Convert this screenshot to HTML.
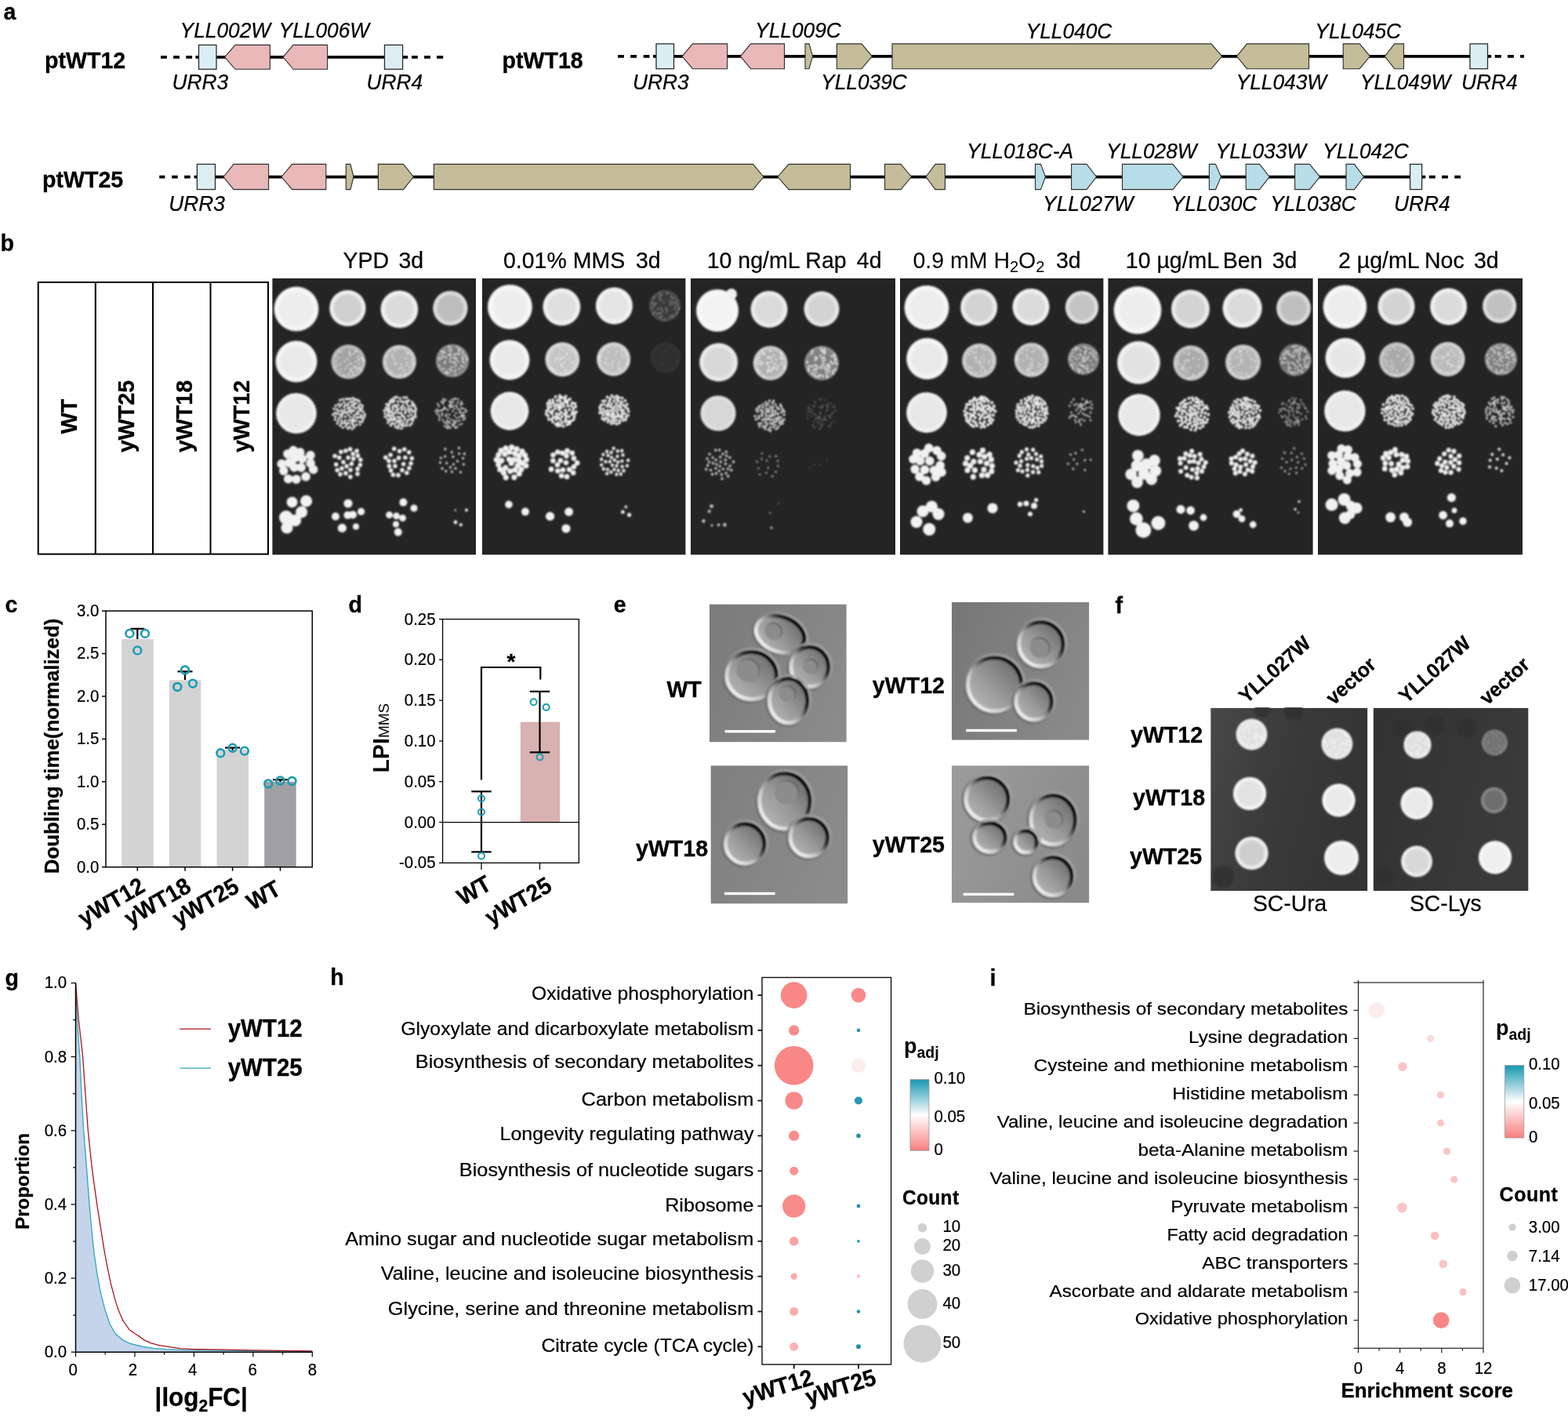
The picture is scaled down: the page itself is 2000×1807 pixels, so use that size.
<!DOCTYPE html>
<html lang="en"><head><meta charset="utf-8"><title>Figure</title>
<style>html,body{margin:0;padding:0;background:#fff}body{width:2000px;height:1807px;overflow:hidden}svg{display:block}text{font-family:"Liberation Sans",sans-serif}</style>
</head><body>
<svg width="2000" height="1807" viewBox="0 0 2000 1807">
<defs>
<filter id="soft" x="-5%" y="-5%" width="110%" height="110%"><feGaussianBlur stdDeviation="1.0"/></filter>
<radialGradient id="lg0"><stop offset="0" stop-color="#ededed"/><stop offset="0.68" stop-color="#ededed"/><stop offset="0.84" stop-color="#f7f7f7"/><stop offset="0.94" stop-color="#f7f7f7"/><stop offset="1" stop-color="#f7f7f7" stop-opacity="0.25"/></radialGradient>
<radialGradient id="lg1"><stop offset="0" stop-color="#cfcfcf"/><stop offset="0.68" stop-color="#cfcfcf"/><stop offset="0.84" stop-color="#efefef"/><stop offset="0.94" stop-color="#efefef"/><stop offset="1" stop-color="#efefef" stop-opacity="0.25"/></radialGradient>
<radialGradient id="lg2"><stop offset="0" stop-color="#dbdbdb"/><stop offset="0.68" stop-color="#dbdbdb"/><stop offset="0.84" stop-color="#f1f1f1"/><stop offset="0.94" stop-color="#f1f1f1"/><stop offset="1" stop-color="#f1f1f1" stop-opacity="0.25"/></radialGradient>
<radialGradient id="lg3"><stop offset="0" stop-color="#bdbdbd"/><stop offset="0.68" stop-color="#bdbdbd"/><stop offset="0.84" stop-color="#dddddd"/><stop offset="0.94" stop-color="#dddddd"/><stop offset="1" stop-color="#dddddd" stop-opacity="0.25"/></radialGradient>
<radialGradient id="lg4"><stop offset="0" stop-color="#e9e9e9"/><stop offset="0.68" stop-color="#e9e9e9"/><stop offset="0.84" stop-color="#f5f5f5"/><stop offset="0.94" stop-color="#f5f5f5"/><stop offset="1" stop-color="#f5f5f5" stop-opacity="0.25"/></radialGradient>
<radialGradient id="lg5"><stop offset="0" stop-color="#a2a2a2"/><stop offset="0.68" stop-color="#a2a2a2"/><stop offset="0.84" stop-color="#bbbbbb"/><stop offset="0.94" stop-color="#bbbbbb"/><stop offset="1" stop-color="#bbbbbb" stop-opacity="0.25"/></radialGradient>
<radialGradient id="lg6"><stop offset="0" stop-color="#b1b1b1"/><stop offset="0.68" stop-color="#b1b1b1"/><stop offset="0.84" stop-color="#cacaca"/><stop offset="0.94" stop-color="#cacaca"/><stop offset="1" stop-color="#cacaca" stop-opacity="0.25"/></radialGradient>
<radialGradient id="lg7"><stop offset="0" stop-color="#7a7a7a"/><stop offset="0.68" stop-color="#7a7a7a"/><stop offset="0.84" stop-color="#8e8e8e"/><stop offset="0.94" stop-color="#8e8e8e"/><stop offset="1" stop-color="#8e8e8e" stop-opacity="0.25"/></radialGradient>
<radialGradient id="lg8"><stop offset="0" stop-color="#dfdfdf"/><stop offset="0.68" stop-color="#dfdfdf"/><stop offset="0.84" stop-color="#f1f1f1"/><stop offset="0.94" stop-color="#f1f1f1"/><stop offset="1" stop-color="#f1f1f1" stop-opacity="0.25"/></radialGradient>
<radialGradient id="lg9"><stop offset="0" stop-color="#e5e5e5"/><stop offset="0.68" stop-color="#e5e5e5"/><stop offset="0.84" stop-color="#f3f3f3"/><stop offset="0.94" stop-color="#f3f3f3"/><stop offset="1" stop-color="#f3f3f3" stop-opacity="0.25"/></radialGradient>
<radialGradient id="lg10"><stop offset="0" stop-color="#3a3a3a"/><stop offset="0.68" stop-color="#3a3a3a"/><stop offset="0.84" stop-color="#505050"/><stop offset="0.94" stop-color="#505050"/><stop offset="1" stop-color="#505050" stop-opacity="0.25"/></radialGradient>
<radialGradient id="lg11"><stop offset="0" stop-color="#c5c5c5"/><stop offset="0.68" stop-color="#c5c5c5"/><stop offset="0.84" stop-color="#d9d9d9"/><stop offset="0.94" stop-color="#d9d9d9"/><stop offset="1" stop-color="#d9d9d9" stop-opacity="0.25"/></radialGradient>
<radialGradient id="lg12"><stop offset="0" stop-color="#bebebe"/><stop offset="0.68" stop-color="#bebebe"/><stop offset="0.84" stop-color="#d4d4d4"/><stop offset="0.94" stop-color="#d4d4d4"/><stop offset="1" stop-color="#d4d4d4" stop-opacity="0.25"/></radialGradient>
<radialGradient id="lg13"><stop offset="0" stop-color="#2e2e2e"/><stop offset="0.68" stop-color="#2e2e2e"/><stop offset="0.84" stop-color="#303030"/><stop offset="0.94" stop-color="#303030"/><stop offset="1" stop-color="#303030" stop-opacity="0.25"/></radialGradient>
<radialGradient id="lg14"><stop offset="0" stop-color="#f3f3f3"/><stop offset="0.68" stop-color="#f3f3f3"/><stop offset="0.84" stop-color="#f8f8f8"/><stop offset="0.94" stop-color="#f8f8f8"/><stop offset="1" stop-color="#f8f8f8" stop-opacity="0.25"/></radialGradient>
<radialGradient id="lg15"><stop offset="0" stop-color="#dbdbdb"/><stop offset="0.68" stop-color="#dbdbdb"/><stop offset="0.84" stop-color="#ededed"/><stop offset="0.94" stop-color="#ededed"/><stop offset="1" stop-color="#ededed" stop-opacity="0.25"/></radialGradient>
<radialGradient id="lg16"><stop offset="0" stop-color="#d3d3d3"/><stop offset="0.68" stop-color="#d3d3d3"/><stop offset="0.84" stop-color="#e7e7e7"/><stop offset="0.94" stop-color="#e7e7e7"/><stop offset="1" stop-color="#e7e7e7" stop-opacity="0.25"/></radialGradient>
<radialGradient id="lg17"><stop offset="0" stop-color="#d8d8d8"/><stop offset="0.68" stop-color="#d8d8d8"/><stop offset="0.84" stop-color="#eaeaea"/><stop offset="0.94" stop-color="#eaeaea"/><stop offset="1" stop-color="#eaeaea" stop-opacity="0.25"/></radialGradient>
<radialGradient id="lg18"><stop offset="0" stop-color="#7f7f7f"/><stop offset="0.68" stop-color="#7f7f7f"/><stop offset="0.84" stop-color="#8e8e8e"/><stop offset="0.94" stop-color="#8e8e8e"/><stop offset="1" stop-color="#8e8e8e" stop-opacity="0.25"/></radialGradient>
<radialGradient id="lg19"><stop offset="0" stop-color="#d3d3d3"/><stop offset="0.68" stop-color="#d3d3d3"/><stop offset="0.84" stop-color="#ededed"/><stop offset="0.94" stop-color="#ededed"/><stop offset="1" stop-color="#ededed" stop-opacity="0.25"/></radialGradient>
<radialGradient id="lg20"><stop offset="0" stop-color="#c4c4c4"/><stop offset="0.68" stop-color="#c4c4c4"/><stop offset="0.84" stop-color="#e0e0e0"/><stop offset="0.94" stop-color="#e0e0e0"/><stop offset="1" stop-color="#e0e0e0" stop-opacity="0.25"/></radialGradient>
<radialGradient id="lg21"><stop offset="0" stop-color="#7a7a7a"/><stop offset="0.68" stop-color="#7a7a7a"/><stop offset="0.84" stop-color="#898989"/><stop offset="0.94" stop-color="#898989"/><stop offset="1" stop-color="#898989" stop-opacity="0.25"/></radialGradient>
<radialGradient id="lg22"><stop offset="0" stop-color="#d3d3d3"/><stop offset="0.68" stop-color="#d3d3d3"/><stop offset="0.84" stop-color="#ebebeb"/><stop offset="0.94" stop-color="#ebebeb"/><stop offset="1" stop-color="#ebebeb" stop-opacity="0.25"/></radialGradient>
<radialGradient id="lg23"><stop offset="0" stop-color="#bfbfbf"/><stop offset="0.68" stop-color="#bfbfbf"/><stop offset="0.84" stop-color="#dbdbdb"/><stop offset="0.94" stop-color="#dbdbdb"/><stop offset="1" stop-color="#dbdbdb" stop-opacity="0.25"/></radialGradient>
<radialGradient id="lg24"><stop offset="0" stop-color="#e2e2e2"/><stop offset="0.68" stop-color="#e2e2e2"/><stop offset="0.84" stop-color="#f1f1f1"/><stop offset="0.94" stop-color="#f1f1f1"/><stop offset="1" stop-color="#f1f1f1" stop-opacity="0.25"/></radialGradient>
<radialGradient id="lg25"><stop offset="0" stop-color="#aaaaaa"/><stop offset="0.68" stop-color="#aaaaaa"/><stop offset="0.84" stop-color="#c5c5c5"/><stop offset="0.94" stop-color="#c5c5c5"/><stop offset="1" stop-color="#c5c5c5" stop-opacity="0.25"/></radialGradient>
<radialGradient id="lg26"><stop offset="0" stop-color="#b4b4b4"/><stop offset="0.68" stop-color="#b4b4b4"/><stop offset="0.84" stop-color="#cccccc"/><stop offset="0.94" stop-color="#cccccc"/><stop offset="1" stop-color="#cccccc" stop-opacity="0.25"/></radialGradient>
<radialGradient id="lg27"><stop offset="0" stop-color="#707070"/><stop offset="0.68" stop-color="#707070"/><stop offset="0.84" stop-color="#7a7a7a"/><stop offset="0.94" stop-color="#7a7a7a"/><stop offset="1" stop-color="#7a7a7a" stop-opacity="0.25"/></radialGradient>
<radialGradient id="lg28"><stop offset="0" stop-color="#c1c1c1"/><stop offset="0.68" stop-color="#c1c1c1"/><stop offset="0.84" stop-color="#e0e0e0"/><stop offset="0.94" stop-color="#e0e0e0"/><stop offset="1" stop-color="#e0e0e0" stop-opacity="0.25"/></radialGradient>
<radialGradient id="lg29"><stop offset="0" stop-color="#e7e7e7"/><stop offset="0.68" stop-color="#e7e7e7"/><stop offset="0.84" stop-color="#f3f3f3"/><stop offset="0.94" stop-color="#f3f3f3"/><stop offset="1" stop-color="#f3f3f3" stop-opacity="0.25"/></radialGradient>
<radialGradient id="lg30"><stop offset="0" stop-color="#bbbbbb"/><stop offset="0.68" stop-color="#bbbbbb"/><stop offset="0.84" stop-color="#d2d2d2"/><stop offset="0.94" stop-color="#d2d2d2"/><stop offset="1" stop-color="#d2d2d2" stop-opacity="0.25"/></radialGradient>
<radialGradient id="lg31"><stop offset="0" stop-color="#828282"/><stop offset="0.68" stop-color="#828282"/><stop offset="0.84" stop-color="#939393"/><stop offset="0.94" stop-color="#939393"/><stop offset="1" stop-color="#939393" stop-opacity="0.25"/></radialGradient>
<filter id="soft2" x="-10%" y="-10%" width="120%" height="120%"><feGaussianBlur stdDeviation="1.3"/></filter>
<linearGradient id="dic" x1="0.15" y1="0.85" x2="0.85" y2="0.15"><stop offset="0" stop-color="#ececec"/><stop offset="0.28" stop-color="#c8c8c8"/><stop offset="0.5" stop-color="#8a8a8a"/><stop offset="0.72" stop-color="#2c2c2c"/><stop offset="1" stop-color="#0c0c0c"/></linearGradient>
<linearGradient id="cfill" x1="0.15" y1="0.85" x2="0.85" y2="0.15"><stop offset="0" stop-color="#b4b4b4"/><stop offset="0.45" stop-color="#989898"/><stop offset="1" stop-color="#6e6e6e"/></linearGradient>
<linearGradient id="dicr20" gradientTransform="rotate(-20 .5 .5)" x1="0.15" y1="0.85" x2="0.85" y2="0.15"><stop offset="0" stop-color="#ececec"/><stop offset="0.28" stop-color="#c8c8c8"/><stop offset="0.5" stop-color="#8a8a8a"/><stop offset="0.72" stop-color="#2c2c2c"/><stop offset="1" stop-color="#0c0c0c"/></linearGradient>
<linearGradient id="dicO" x1="0.15" y1="0.85" x2="0.85" y2="0.15"><stop offset="0" stop-color="#6c6c6c"/><stop offset="0.5" stop-color="#888"/><stop offset="1" stop-color="#a4a4a4"/></linearGradient>
<linearGradient id="dicv" x1="0.15" y1="0.85" x2="0.85" y2="0.15"><stop offset="0" stop-color="#a8a8a8"/><stop offset="0.5" stop-color="#888"/><stop offset="1" stop-color="#606060"/></linearGradient>
<linearGradient id="bg0" x1="0" y1="0.3" x2="1" y2="0.7"><stop offset="0" stop-color="#7c7c7c"/><stop offset="1" stop-color="#8b8b8b"/></linearGradient>
<linearGradient id="bg1" x1="0" y1="0.3" x2="1" y2="0.7"><stop offset="0" stop-color="#787878"/><stop offset="1" stop-color="#8a8a8a"/></linearGradient>
<linearGradient id="bg2" x1="0" y1="0.3" x2="1" y2="0.7"><stop offset="0" stop-color="#808080"/><stop offset="1" stop-color="#8c8c8c"/></linearGradient>
<linearGradient id="bg3" x1="0" y1="0.3" x2="1" y2="0.7"><stop offset="0" stop-color="#9a9a9a"/><stop offset="1" stop-color="#8a8a8a"/></linearGradient>
<clipPath id="clip0"><rect x="904.8" y="770.4" width="175" height="176"/></clipPath>
<clipPath id="clip1"><rect x="1213.9" y="767.8" width="175.4" height="176"/></clipPath>
<clipPath id="clip2"><rect x="906.4" y="976.2" width="175" height="176.3"/></clipPath>
<clipPath id="clip3"><rect x="1213.9" y="976.2" width="175.4" height="175.3"/></clipPath>
<linearGradient id="fbg1" x1="0" y1="0" x2="1" y2="0.3"><stop offset="0" stop-color="#484848"/><stop offset="0.5" stop-color="#3a3a3a"/><stop offset="1" stop-color="#343434"/></linearGradient>
<linearGradient id="fbg2" x1="0" y1="0" x2="1" y2="0.3"><stop offset="0" stop-color="#323232"/><stop offset="1" stop-color="#3a3a3a"/></linearGradient>
<clipPath id="clipf"><rect x="1544.3" y="902.9" width="405" height="233.10000000000002"/></clipPath>
<radialGradient id="lg32"><stop offset="0" stop-color="#e2e2e2"/><stop offset="0.68" stop-color="#e2e2e2"/><stop offset="0.84" stop-color="#eaeaea"/><stop offset="0.94" stop-color="#eaeaea"/><stop offset="1" stop-color="#eaeaea" stop-opacity="0.25"/></radialGradient>
<radialGradient id="lg33"><stop offset="0" stop-color="#e0e0e0"/><stop offset="0.68" stop-color="#e0e0e0"/><stop offset="0.84" stop-color="#e8e8e8"/><stop offset="0.94" stop-color="#e8e8e8"/><stop offset="1" stop-color="#e8e8e8" stop-opacity="0.25"/></radialGradient>
<radialGradient id="lg34"><stop offset="0" stop-color="#e3e3e3"/><stop offset="0.68" stop-color="#e3e3e3"/><stop offset="0.84" stop-color="#f5f5f5"/><stop offset="0.94" stop-color="#f5f5f5"/><stop offset="1" stop-color="#f5f5f5" stop-opacity="0.25"/></radialGradient>
<radialGradient id="lg35"><stop offset="0" stop-color="#cecece"/><stop offset="0.68" stop-color="#cecece"/><stop offset="0.84" stop-color="#efefef"/><stop offset="0.94" stop-color="#efefef"/><stop offset="1" stop-color="#efefef" stop-opacity="0.25"/></radialGradient>
<radialGradient id="lg36"><stop offset="0" stop-color="#ededed"/><stop offset="0.68" stop-color="#ededed"/><stop offset="0.84" stop-color="#f5f5f5"/><stop offset="0.94" stop-color="#f5f5f5"/><stop offset="1" stop-color="#f5f5f5" stop-opacity="0.25"/></radialGradient>
<radialGradient id="lg37"><stop offset="0" stop-color="#e9e9e9"/><stop offset="0.68" stop-color="#e9e9e9"/><stop offset="0.84" stop-color="#f3f3f3"/><stop offset="0.94" stop-color="#f3f3f3"/><stop offset="1" stop-color="#f3f3f3" stop-opacity="0.25"/></radialGradient>
<radialGradient id="lg38"><stop offset="0" stop-color="#6e6e6e"/><stop offset="0.68" stop-color="#6e6e6e"/><stop offset="0.84" stop-color="#878787"/><stop offset="0.94" stop-color="#878787"/><stop offset="1" stop-color="#878787" stop-opacity="0.25"/></radialGradient>
<radialGradient id="lg39"><stop offset="0" stop-color="#d8d8d8"/><stop offset="0.68" stop-color="#d8d8d8"/><stop offset="0.84" stop-color="#ededed"/><stop offset="0.94" stop-color="#ededed"/><stop offset="1" stop-color="#ededed" stop-opacity="0.25"/></radialGradient>
<radialGradient id="lg40"><stop offset="0" stop-color="#efefef"/><stop offset="0.68" stop-color="#efefef"/><stop offset="0.84" stop-color="#f7f7f7"/><stop offset="0.94" stop-color="#f7f7f7"/><stop offset="1" stop-color="#f7f7f7" stop-opacity="0.25"/></radialGradient>
<linearGradient id="cb1161" x1="0" y1="0" x2="0" y2="1"><stop offset="0" stop-color="#1997b3"/><stop offset="0.5" stop-color="#ffffff"/><stop offset="1" stop-color="#f87f7e"/></linearGradient>
<linearGradient id="cb1919" x1="0" y1="0" x2="0" y2="1"><stop offset="0" stop-color="#1997b3"/><stop offset="0.5" stop-color="#ffffff"/><stop offset="1" stop-color="#f87f7e"/></linearGradient>
</defs>
<!-- pa -->
<text font-size="28.6" font-weight="bold" transform="translate(4.50 24.70)" stroke="#000" stroke-width="0.3">a</text>
<text font-size="28.6" font-weight="bold" transform="translate(57.00 87.20) scale(1 1.04)" stroke="#000" stroke-width="0.3">ptWT12</text>
<path d="M205.0 72.8H212.8M221.1 72.8H229.0M237.4 72.8H245.1M249.4 72.8H254.0" stroke="#000" stroke-width="3.8" fill="none"/>
<line x1="253.50" y1="72.80" x2="513.00" y2="72.80" stroke="#000" stroke-width="3.8"/>
<path d="M513.0 72.8H520.2M525.1 72.8H532.8M541.1 72.8H548.9M557.1 72.8H565.2" stroke="#000" stroke-width="3.8" fill="none"/>
<rect x="253.50" y="57.40" width="22.50" height="30.90" fill="#dbeef4" stroke="#2c2c2c" stroke-width="1.3"/>
<polygon points="286.50,72.85 300.00,57.40 344.40,57.40 344.40,88.30 300.00,88.30" fill="#e9b8b8" stroke="#2c2c2c" stroke-width="1.1"/>
<polygon points="361.00,72.85 374.00,57.40 417.60,57.40 417.60,88.30 374.00,88.30" fill="#e9b8b8" stroke="#2c2c2c" stroke-width="1.1"/>
<rect x="490.50" y="57.40" width="23.10" height="30.90" fill="#dbeef4" stroke="#2c2c2c" stroke-width="1.3"/>
<text font-size="26.3" font-style="italic" transform="translate(229.60 48.30) scale(1 1.04)" stroke="#000" stroke-width="0.22">YLL002W</text>
<text font-size="26.3" font-style="italic" transform="translate(355.60 48.30) scale(1 1.04)" stroke="#000" stroke-width="0.22">YLL006W</text>
<text font-size="26.3" font-style="italic" transform="translate(219.60 114.30) scale(1 1.04)" stroke="#000" stroke-width="0.22">URR3</text>
<text font-size="26.3" font-style="italic" transform="translate(467.60 114.30) scale(1 1.04)" stroke="#000" stroke-width="0.22">URR4</text>
<text font-size="28.6" font-weight="bold" transform="translate(640.50 87.20) scale(1 1.04)" stroke="#000" stroke-width="0.3">ptWT18</text>
<path d="M788.1 71.9H795.9M804.2 71.9H812.0M820.7 71.9H828.5M833.0 71.9H837.0" stroke="#000" stroke-width="3.8" fill="none"/>
<line x1="837.00" y1="71.90" x2="1897.00" y2="71.90" stroke="#000" stroke-width="3.8"/>
<path d="M1897.0 71.9H1902.2M1906.7 71.9H1914.8M1922.9 71.9H1930.9M1939.1 71.9H1943.9" stroke="#000" stroke-width="3.8" fill="none"/>
<rect x="837.00" y="55.90" width="22.50" height="31.80" fill="#dbeef4" stroke="#2c2c2c" stroke-width="1.3"/>
<polygon points="870.00,71.80 883.50,55.90 927.60,55.90 927.60,87.70 883.50,87.70" fill="#e9b8b8" stroke="#2c2c2c" stroke-width="1.1"/>
<polygon points="944.40,71.80 957.60,55.90 1000.50,55.90 1000.50,87.70 957.60,87.70" fill="#e9b8b8" stroke="#2c2c2c" stroke-width="1.1"/>
<polygon points="1027.00,55.90 1032.00,55.90 1036.50,71.80 1032.00,87.70 1027.00,87.70" fill="#c5bd99" stroke="#2c2c2c" stroke-width="1.1"/>
<polygon points="1067.40,55.90 1099.00,55.90 1112.40,71.80 1099.00,87.70 1067.40,87.70" fill="#c5bd99" stroke="#2c2c2c" stroke-width="1.1"/>
<polygon points="1138.00,55.90 1545.00,55.90 1558.75,71.80 1545.00,87.70 1138.00,87.70" fill="#c5bd99" stroke="#2c2c2c" stroke-width="1.1"/>
<polygon points="1577.50,71.80 1590.50,55.90 1669.50,55.90 1669.50,87.70 1590.50,87.70" fill="#c5bd99" stroke="#2c2c2c" stroke-width="1.1"/>
<polygon points="1713.25,55.90 1734.25,55.90 1747.50,71.80 1734.25,87.70 1713.25,87.70" fill="#c5bd99" stroke="#2c2c2c" stroke-width="1.1"/>
<polygon points="1766.25,71.80 1778.75,55.90 1790.50,55.90 1790.50,87.70 1778.75,87.70" fill="#c5bd99" stroke="#2c2c2c" stroke-width="1.1"/>
<rect x="1875.00" y="55.90" width="22.50" height="31.80" fill="#dbeef4" stroke="#2c2c2c" stroke-width="1.3"/>
<text font-size="26.3" font-style="italic" transform="translate(807.10 114.30) scale(1 1.04)" stroke="#000" stroke-width="0.22">URR3</text>
<text font-size="26.3" font-style="italic" transform="translate(963.10 48.30) scale(1 1.04)" stroke="#000" stroke-width="0.22">YLL009C</text>
<text font-size="26.3" font-style="italic" transform="translate(1047.10 114.30) scale(1 1.04)" stroke="#000" stroke-width="0.22">YLL039C</text>
<text font-size="26.3" font-style="italic" transform="translate(1308.60 48.80) scale(1 1.04)" stroke="#000" stroke-width="0.22">YLL040C</text>
<text font-size="26.3" font-style="italic" transform="translate(1677.35 48.80) scale(1 1.04)" stroke="#000" stroke-width="0.22">YLL045C</text>
<text font-size="26.3" font-style="italic" transform="translate(1576.60 114.30) scale(1 1.04)" stroke="#000" stroke-width="0.22">YLL043W</text>
<text font-size="26.3" font-style="italic" transform="translate(1734.85 114.30) scale(1 1.04)" stroke="#000" stroke-width="0.22">YLL049W</text>
<text font-size="26.3" font-style="italic" transform="translate(1864.10 114.30) scale(1 1.04)" stroke="#000" stroke-width="0.22">URR4</text>
<text font-size="28.6" font-weight="bold" transform="translate(54.00 238.80) scale(1 1.04)" stroke="#000" stroke-width="0.3">ptWT25</text>
<path d="M203.2 225.6H210.4M219.1 225.6H226.7M235.1 225.6H242.8M247.6 225.6H252.0" stroke="#000" stroke-width="3.8" fill="none"/>
<line x1="251.40" y1="225.60" x2="1813.00" y2="225.60" stroke="#000" stroke-width="3.8"/>
<path d="M1813.0 225.6H1818.3M1822.8 225.6H1830.7M1839.0 225.6H1846.9M1855.2 225.6H1863.0" stroke="#000" stroke-width="3.8" fill="none"/>
<rect x="251.40" y="209.40" width="23.10" height="32.20" fill="#dbeef4" stroke="#2c2c2c" stroke-width="1.3"/>
<polygon points="285.00,225.50 298.00,209.40 342.60,209.40 342.60,241.60 298.00,241.60" fill="#e9b8b8" stroke="#2c2c2c" stroke-width="1.1"/>
<polygon points="359.00,225.50 372.60,209.40 415.80,209.40 415.80,241.60 372.60,241.60" fill="#e9b8b8" stroke="#2c2c2c" stroke-width="1.1"/>
<polygon points="441.30,209.40 447.00,209.40 451.00,225.50 447.00,241.60 441.30,241.60" fill="#c5bd99" stroke="#2c2c2c" stroke-width="1.1"/>
<polygon points="482.40,209.40 514.50,209.40 527.40,225.50 514.50,241.60 482.40,241.60" fill="#c5bd99" stroke="#2c2c2c" stroke-width="1.1"/>
<polygon points="553.40,209.40 960.50,209.40 974.00,225.50 960.50,241.60 553.40,241.60" fill="#c5bd99" stroke="#2c2c2c" stroke-width="1.1"/>
<polygon points="992.00,225.50 1006.00,209.40 1084.50,209.40 1084.50,241.60 1006.00,241.60" fill="#c5bd99" stroke="#2c2c2c" stroke-width="1.1"/>
<polygon points="1128.60,209.40 1149.00,209.40 1162.50,225.50 1149.00,241.60 1128.60,241.60" fill="#c5bd99" stroke="#2c2c2c" stroke-width="1.1"/>
<polygon points="1181.00,225.50 1193.00,209.40 1205.40,209.40 1205.40,241.60 1193.00,241.60" fill="#c5bd99" stroke="#2c2c2c" stroke-width="1.1"/>
<polygon points="1320.50,209.40 1327.50,209.40 1333.50,225.50 1327.50,241.60 1320.50,241.60" fill="#b7dde8" stroke="#2c2c2c" stroke-width="1.1"/>
<polygon points="1366.60,209.40 1386.00,209.40 1398.50,225.50 1386.00,241.60 1366.60,241.60" fill="#b7dde8" stroke="#2c2c2c" stroke-width="1.1"/>
<polygon points="1431.50,209.40 1496.00,209.40 1509.00,225.50 1496.00,241.60 1431.50,241.60" fill="#b7dde8" stroke="#2c2c2c" stroke-width="1.1"/>
<polygon points="1542.40,209.40 1550.50,209.40 1557.40,225.50 1550.50,241.60 1542.40,241.60" fill="#b7dde8" stroke="#2c2c2c" stroke-width="1.1"/>
<polygon points="1589.20,209.40 1606.60,209.40 1619.20,225.50 1606.60,241.60 1589.20,241.60" fill="#b7dde8" stroke="#2c2c2c" stroke-width="1.1"/>
<polygon points="1651.60,209.40 1670.50,209.40 1683.40,225.50 1670.50,241.60 1651.60,241.60" fill="#b7dde8" stroke="#2c2c2c" stroke-width="1.1"/>
<polygon points="1717.00,209.40 1727.50,209.40 1739.50,225.50 1727.50,241.60 1717.00,241.60" fill="#b7dde8" stroke="#2c2c2c" stroke-width="1.1"/>
<rect x="1798.60" y="209.40" width="15.00" height="32.20" fill="#dbeef4" stroke="#2c2c2c" stroke-width="1.3"/>
<text font-size="26.3" font-style="italic" transform="translate(215.20 268.90) scale(1 1.04)" stroke="#000" stroke-width="0.22">URR3</text>
<text font-size="26.3" font-style="italic" transform="translate(1233.10 202.30) scale(1 1.04)" stroke="#000" stroke-width="0.22">YLL018C-A</text>
<text font-size="26.3" font-style="italic" transform="translate(1411.10 202.30) scale(1 1.04)" stroke="#000" stroke-width="0.22">YLL028W</text>
<text font-size="26.3" font-style="italic" transform="translate(1550.60 202.30) scale(1 1.04)" stroke="#000" stroke-width="0.22">YLL033W</text>
<text font-size="26.3" font-style="italic" transform="translate(1687.10 202.30) scale(1 1.04)" stroke="#000" stroke-width="0.22">YLL042C</text>
<text font-size="26.3" font-style="italic" transform="translate(1330.10 268.90) scale(1 1.04)" stroke="#000" stroke-width="0.22">YLL027W</text>
<text font-size="26.3" font-style="italic" transform="translate(1493.60 268.90) scale(1 1.04)" stroke="#000" stroke-width="0.22">YLL030C</text>
<text font-size="26.3" font-style="italic" transform="translate(1620.20 268.90) scale(1 1.04)" stroke="#000" stroke-width="0.22">YLL038C</text>
<text font-size="26.3" font-style="italic" transform="translate(1778.00 268.90) scale(1 1.04)" stroke="#000" stroke-width="0.22">URR4</text>
<!-- pb -->
<text font-size="28.6" font-weight="bold" transform="translate(0.50 319.50)" stroke="#000" stroke-width="0.3">b</text>
<rect x="48.70" y="360.00" width="293.30" height="346.60" fill="none" stroke="#000" stroke-width="2"/>
<line x1="121.80" y1="360.00" x2="121.80" y2="706.60" stroke="#000" stroke-width="2"/>
<line x1="195.00" y1="360.00" x2="195.00" y2="706.60" stroke="#000" stroke-width="2"/>
<line x1="268.50" y1="360.00" x2="268.50" y2="706.60" stroke="#000" stroke-width="2"/>
<text font-size="28.6" font-weight="bold" text-anchor="middle" transform="translate(97.90 531.00) rotate(-90) scale(1 1.04)" stroke="#000" stroke-width="0.3">WT</text>
<text font-size="28.6" font-weight="bold" text-anchor="middle" transform="translate(171.40 531.00) rotate(-90) scale(1 1.04)" stroke="#000" stroke-width="0.3">yWT25</text>
<text font-size="28.6" font-weight="bold" text-anchor="middle" transform="translate(244.60 531.00) rotate(-90) scale(1 1.04)" stroke="#000" stroke-width="0.3">yWT18</text>
<text font-size="28.6" font-weight="bold" text-anchor="middle" transform="translate(317.90 531.00) rotate(-90) scale(1 1.04)" stroke="#000" stroke-width="0.3">yWT12</text>
<text font-size="28.5" transform="translate(437.50 341.60) scale(1 1.04)" stroke="#000" stroke-width="0.22">YPD</text>
<text font-size="28.5" transform="translate(508.50 341.60) scale(1 1.04)" stroke="#000" stroke-width="0.22">3d</text>
<text font-size="28.5" transform="translate(642.00 341.60) scale(1 1.04)" stroke="#000" stroke-width="0.22">0.01% MMS</text>
<text font-size="28.5" transform="translate(811.00 341.60) scale(1 1.04)" stroke="#000" stroke-width="0.22">3d</text>
<text font-size="28.5" transform="translate(901.70 341.60) scale(1 1.04)" stroke="#000" stroke-width="0.22">10 ng/mL Rap</text>
<text font-size="28.5" transform="translate(1092.80 341.60) scale(1 1.04)" stroke="#000" stroke-width="0.22">4d</text>
<text transform="translate(1164.5 341.6) scale(1 1.04)" font-size="28.5">0.9 mM H<tspan font-size="20" dy="5.5">2</tspan><tspan dy="-5.5">O</tspan><tspan font-size="20" dy="5.5">2</tspan></text>
<text font-size="28.5" transform="translate(1347.00 341.60) scale(1 1.04)" stroke="#000" stroke-width="0.22">3d</text>
<text font-size="28.5" transform="translate(1435.80 341.60) scale(1 1.04)" stroke="#000" stroke-width="0.22">10 µg/mL</text>
<text font-size="28.5" transform="translate(1559.70 341.60) scale(1 1.04)" stroke="#000" stroke-width="0.22">Ben</text>
<text font-size="28.5" transform="translate(1622.70 341.60) scale(1 1.04)" stroke="#000" stroke-width="0.22">3d</text>
<text font-size="28.5" transform="translate(1707.00 341.60) scale(1 1.04)" stroke="#000" stroke-width="0.22">2 µg/mL</text>
<text font-size="28.5" transform="translate(1817.00 341.60) scale(1 1.04)" stroke="#000" stroke-width="0.22">Noc</text>
<text font-size="28.5" transform="translate(1880.00 341.60) scale(1 1.04)" stroke="#000" stroke-width="0.22">3d</text>
<g>
<rect x="347.40" y="355.00" width="259.60" height="352.40" fill="#242424"/>
<g filter="url(#soft)">
<circle cx="378.00" cy="394.00" r="29.00" fill="url(#lg0)"/>
<circle cx="443.40" cy="393.00" r="23.60" fill="url(#lg1)"/>
<circle cx="509.40" cy="394.40" r="24.40" fill="url(#lg2)"/>
<circle cx="574.40" cy="393.00" r="22.60" fill="url(#lg3)"/>
<circle cx="378.00" cy="461.00" r="27.00" fill="url(#lg4)"/>
<circle cx="444.40" cy="461.40" r="22.40" fill="url(#lg5)"/>
<path d="M430.0 465.8h0M456.6 455.1h0M429.0 460.6h0M450.2 474.6h0M432.1 448.3h0M453.6 467.6h0M459.7 471.2h0M443.0 457.5h0M464.1 459.2h0M435.4 448.4h0M445.8 463.5h0M439.6 460.5h0M448.0 470.6h0M457.9 464.0h0M427.2 468.2h0M434.1 464.2h0M464.5 461.1h0M453.5 447.1h0M440.5 470.3h0M443.1 466.6h0M445.7 448.7h0M451.5 451.1h0M462.3 456.6h0M453.6 461.4h0M457.0 459.8h0M458.7 468.5h0M446.3 451.1h0M451.8 468.2h0M448.4 464.3h0M446.9 453.3h0M431.8 456.5h0M450.7 477.5h0M455.4 473.3h0M454.1 470.1h0M446.8 471.6h0M462.2 458.1h0M438.1 479.3h0M447.5 473.7h0M454.2 448.6h0M460.6 473.2h0M457.4 469.7h0M445.1 477.0h0M435.0 471.2h0M458.0 457.8h0M427.7 452.9h0" stroke="#ededed" stroke-width="2.0" stroke-linecap="round" fill="none"/>
<circle cx="509.40" cy="461.40" r="22.00" fill="url(#lg6)"/>
<path d="M512.6 468.5h0M524.4 451.7h0M509.4 470.0h0M508.1 442.2h0M515.8 479.6h0M520.8 451.0h0M503.8 464.4h0M528.3 466.1h0M510.6 478.0h0M508.6 479.4h0M500.6 455.3h0M517.0 476.4h0M518.0 465.4h0M492.4 454.7h0M517.2 457.0h0M519.6 462.5h0M504.8 463.0h0M514.8 472.2h0M502.9 458.3h0M497.3 475.6h0M525.3 459.4h0M503.9 447.3h0M511.8 464.3h0M528.2 463.5h0M503.5 442.9h0M525.1 463.5h0M492.6 463.3h0M501.1 479.4h0M522.4 468.1h0M508.1 444.8h0M514.5 443.2h0M499.6 474.5h0M494.1 470.2h0M519.2 450.1h0M500.7 452.7h0" stroke="#ededed" stroke-width="2.0" stroke-linecap="round" fill="none"/>
<circle cx="577.00" cy="460.00" r="21.60" fill="url(#lg7)"/>
<path d="M563.8 452.5h0M590.6 467.5h0M595.2 459.2h0M575.3 448.0h0M575.6 445.2h0M560.4 466.5h0M591.8 462.8h0M567.7 461.1h0M572.6 447.0h0M563.0 447.7h0M576.9 462.1h0M572.0 475.2h0M579.4 467.7h0M590.1 451.2h0M569.6 474.0h0M581.1 472.1h0M583.4 442.6h0M585.8 451.8h0M567.5 454.5h0M586.0 470.3h0M586.3 444.7h0M572.4 441.6h0M575.7 467.9h0M567.3 463.1h0M567.4 450.3h0M569.9 476.3h0M590.0 458.5h0M580.1 461.6h0M579.8 457.2h0M584.1 460.9h0M574.1 460.9h0M581.5 451.7h0M579.7 463.3h0M566.2 448.5h0M573.5 452.0h0M590.3 460.9h0M575.2 452.0h0M575.4 471.3h0M564.3 448.9h0M563.4 470.7h0M581.8 456.8h0M592.1 453.2h0M566.5 470.2h0M589.6 448.1h0M589.4 455.5h0M571.9 452.8h0M573.9 442.7h0M581.2 478.0h0M596.1 457.7h0M560.2 456.0h0M584.1 451.0h0M588.2 466.4h0M578.8 455.4h0M579.5 452.3h0M568.2 474.9h0M581.8 465.8h0M560.6 458.3h0M585.6 446.4h0M582.4 458.2h0M579.5 473.9h0M585.1 447.9h0M572.5 471.1h0M590.8 457.2h0M569.2 456.1h0M563.6 456.9h0M574.4 458.0h0M564.4 454.8h0M575.2 455.3h0M595.0 455.0h0M575.4 473.3h0" stroke="#ededed" stroke-width="2.0" stroke-linecap="round" fill="none"/>
<circle cx="378.00" cy="527.00" r="24.18" fill="#e8e8e8"/>
<path d="M401.3 529.3h0M400.6 533.1h0M399.3 536.8h0M397.4 540.1h0M394.9 543.1h0M392.1 545.7h0M388.8 547.8h0M385.2 549.3h0M381.5 550.1h0M377.6 550.4h0M373.7 550.0h0M370.0 549.0h0M366.5 547.4h0M363.3 545.2h0M360.5 542.5h0M358.2 539.5h0M356.4 536.0h0M355.2 532.4h0M354.6 528.5h0M354.7 524.7h0M355.4 520.9h0M356.7 517.2h0M358.6 513.9h0M361.1 510.9h0M363.9 508.3h0M367.2 506.2h0M370.8 504.7h0M374.5 503.9h0M378.4 503.6h0M382.3 504.0h0M386.0 505.0h0M389.5 506.6h0M392.7 508.8h0M395.5 511.5h0M397.8 514.5h0M399.6 518.0h0M400.8 521.6h0M401.4 525.5h0" stroke="#f0f0f0" stroke-width="5.2" stroke-linecap="round" fill="none"/>
<path d="M454.3 536.6h0M452.7 509.4h0M433.7 528.7h0M450.7 541.9h0M451.5 523.7h0M445.6 524.0h0M448.3 536.1h0M440.6 516.4h0M435.2 539.6h0M458.7 537.6h0M445.0 536.0h0M431.8 524.5h0M435.7 536.2h0M437.0 525.5h0M435.5 515.7h0M454.4 514.2h0M451.1 519.3h0M443.9 508.8h0M454.3 520.5h0M437.3 544.9h0M449.0 546.9h0M446.2 544.3h0M451.5 515.5h0M446.8 520.0h0M431.2 536.6h0M454.0 528.0h0M437.0 509.3h0M427.3 526.4h0M447.0 532.0h0M455.8 510.0h0M463.3 534.5h0M427.7 531.2h0M438.6 539.3h0M443.1 525.6h0M444.1 514.1h0M459.2 515.7h0M433.3 518.6h0M463.1 525.0h0M444.0 546.4h0M457.1 527.8h0M448.0 526.6h0M431.9 515.4h0M444.5 539.9h0M440.5 531.5h0M460.0 523.9h0M441.4 543.8h0M444.3 529.3h0M454.8 541.7h0M432.3 533.0h0M439.5 522.8h0M447.6 512.4h0M444.0 517.1h0M438.9 513.0h0M429.7 522.0h0M451.3 530.2h0M450.8 512.1h0M435.8 531.7h0M433.5 510.4h0M454.7 532.5h0M462.2 517.4h0M448.7 516.4h0M439.0 518.9h0M430.1 527.6h0M448.7 539.7h0M457.7 532.2h0M428.3 517.2h0M426.0 521.2h0M440.5 536.3h0M443.7 520.8h0M465.2 528.3h0M446.9 508.7h0M457.3 518.4h0M441.0 508.9h0M459.2 541.1h0M435.3 523.1h0M424.8 528.8h0M427.4 535.0h0M461.0 532.4h0M436.7 528.4h0M451.8 544.8h0M462.0 537.8h0M430.3 540.0h0M464.8 531.3h0M440.3 526.4h0M460.9 529.5h0M461.7 520.7h0M456.5 524.7h0M434.1 542.7h0M458.3 511.8h0M451.2 537.3h0M448.5 523.4h0M450.3 507.7h0M450.8 534.0h0M441.6 540.3h0M458.5 521.1h0" stroke="#f0f0f0" stroke-width="3.4" stroke-linecap="round" fill="none"/>
<path d="M524.6 529.0h0M507.1 531.7h0M525.6 512.9h0M520.4 535.7h0M508.1 542.7h0M498.6 533.6h0M529.1 518.7h0M512.0 536.1h0M494.6 530.1h0M501.0 518.5h0M522.1 525.4h0M516.8 526.8h0M515.0 543.0h0M512.9 522.5h0M515.0 507.0h0M510.0 532.6h0M530.5 521.8h0M507.7 512.1h0M510.2 508.0h0M499.9 525.4h0M494.0 523.4h0M503.2 540.7h0M522.9 542.2h0M521.4 510.8h0M505.5 523.7h0M526.9 532.6h0M491.2 527.5h0M503.0 511.0h0M515.1 512.8h0M514.5 539.3h0M511.6 526.8h0M502.4 532.1h0M525.1 517.2h0M529.6 528.5h0M496.9 514.9h0M508.1 521.9h0M518.5 507.1h0M508.2 526.6h0M518.5 511.8h0M526.4 524.5h0M521.0 518.2h0M498.4 542.5h0M506.2 538.2h0M494.3 534.6h0M504.4 544.5h0M504.2 534.9h0M519.1 539.0h0M523.9 534.4h0M517.6 523.7h0M513.0 529.9h0M507.7 516.5h0M520.8 530.6h0M496.4 521.0h0M506.2 506.4h0M525.1 539.7h0M494.9 539.1h0M515.5 531.7h0M513.9 517.0h0M511.9 511.9h0M524.6 521.7h0M519.0 514.9h0M516.4 535.1h0M500.7 513.0h0M516.2 520.2h0M503.7 516.8h0M501.3 521.7h0M518.6 542.5h0M493.1 515.6h0M501.2 535.7h0M490.2 523.8h0M526.8 536.1h0M492.3 520.4h0M512.2 546.3h0M503.8 526.9h0M511.8 519.5h0M499.9 509.4h0M497.8 530.3h0M500.0 539.8h0M512.1 542.1h0M491.2 531.5h0M521.1 521.9h0M497.1 536.3h0M503.1 507.1h0M527.9 515.7h0M510.1 539.2h0M500.7 528.9h0M495.7 527.1h0M497.5 511.8h0M529.8 524.9h0M507.9 545.9h0M505.6 519.3h0M530.0 531.8h0M497.0 524.2h0M508.5 536.2h0M495.5 517.9h0" stroke="#f0f0f0" stroke-width="3.6" stroke-linecap="round" fill="none"/>
<path d="M566.4 538.2h0M568.7 530.8h0M574.4 545.7h0M565.3 514.7h0M581.3 508.5h0M575.5 513.2h0M563.8 523.1h0M592.9 533.7h0M585.8 532.0h0M581.8 516.9h0M577.5 524.4h0M583.0 537.0h0M563.1 512.4h0M589.6 514.9h0M583.0 544.6h0M588.3 530.0h0M573.2 528.6h0M580.9 545.4h0M586.7 523.8h0M592.4 526.0h0M590.4 529.2h0M578.0 536.3h0M573.1 516.9h0M570.2 536.1h0M579.8 530.1h0M584.5 522.0h0M578.4 517.8h0M559.9 529.2h0M575.3 515.9h0M564.2 527.2h0M565.7 521.8h0M581.8 526.7h0M578.3 512.8h0M558.6 524.7h0M574.7 534.8h0M560.3 535.6h0M573.4 512.3h0M567.0 519.6h0M590.4 520.8h0M559.9 517.9h0M557.7 522.4h0M572.5 543.8h0M568.9 539.3h0M580.7 539.8h0M565.8 511.9h0M568.3 510.1h0M568.6 521.2h0M589.4 526.5h0M576.0 510.0h0M569.3 544.5h0M565.5 508.9h0M584.0 513.4h0M567.1 543.0h0M589.0 540.5h0M571.3 523.0h0M579.5 521.2h0M588.2 512.6h0M579.0 508.9h0M569.3 528.2h0M589.8 531.8h0M590.9 535.1h0M571.5 532.5h0M586.2 526.3h0M587.4 516.4h0M578.5 540.1h0M594.9 524.3h0M576.9 542.1h0M572.0 537.8h0M571.0 545.9h0M564.7 535.2h0M593.4 522.1h0M592.4 530.5h0M557.3 527.6h0M580.1 537.3h0M574.0 539.1h0M561.4 523.9h0M555.6 524.2h0M558.3 515.3h0M586.0 541.5h0M563.9 529.8h0M582.4 533.0h0M573.8 519.6h0M579.2 543.3h0M588.2 520.5h0M560.7 532.2h0M582.9 519.5h0M584.3 509.3h0M586.1 536.2h0M570.8 541.1h0M576.1 518.9h0" stroke="#d7d7d7" stroke-width="2.6" stroke-linecap="round" fill="none"/>
<path d="M377.9 611.2h0M366.9 578.9h0M375.2 595.9h0M384.2 596.1h0M399.7 598.7h0M382.7 576.7h0M361.8 600.3h0M396.1 590.7h0M367.7 610.7h0M390.1 607.8h0M385.5 585.0h0M368.6 590.2h0M374.2 574.4h0M359.2 591.5h0M396.0 580.6h0M375.3 584.4h0" stroke="#f0f0f0" stroke-width="11.6" stroke-linecap="round" fill="none"/>
<path d="M459.4 592.7h0M456.1 597.9h0M430.2 599.5h0M441.0 574.8h0M450.2 578.7h0M442.2 594.6h0M459.8 586.2h0M447.1 599.2h0M441.0 603.4h0M427.1 581.5h0M448.4 591.4h0M428.7 592.3h0M456.4 581.1h0M446.9 608.1h0M432.8 583.6h0M444.1 583.6h0M438.0 589.3h0M450.7 584.9h0M456.0 604.3h0M436.0 597.2h0M434.0 604.8h0M434.9 576.2h0M455.1 575.0h0M446.7 572.7h0" stroke="#f0f0f0" stroke-width="5.6" stroke-linecap="round" fill="none"/>
<path d="M525.3 584.5h0M498.1 580.1h0M498.6 599.9h0M502.7 572.2h0M496.0 587.8h0M521.9 597.0h0M508.6 583.9h0M516.9 583.5h0M514.7 591.7h0M518.9 603.0h0M524.1 591.0h0M496.4 594.2h0M504.0 594.2h0M521.8 576.7h0M508.0 605.9h0M515.8 573.0h0M513.0 599.6h0M509.6 575.2h0M503.0 587.7h0M491.9 583.4h0M501.4 605.5h0" stroke="#f0f0f0" stroke-width="5.6" stroke-linecap="round" fill="none"/>
<path d="M569.7 590.5h0M581.1 597.3h0M568.8 600.8h0M564.0 597.4h0M567.8 582.1h0M561.5 589.8h0M592.3 578.7h0M591.3 592.0h0M567.9 572.7h0M577.9 582.4h0M578.4 592.0h0M576.3 576.6h0M590.7 584.3h0M587.5 602.0h0M585.7 578.5h0M583.5 588.1h0M574.5 595.9h0M562.4 584.0h0M585.4 571.3h0M576.5 601.6h0" stroke="#dcdcdc" stroke-width="3.2" stroke-linecap="round" fill="none"/>
<circle cx="372.60" cy="640.40" r="7.00" fill="#f2f2f2"/>
<circle cx="390.60" cy="639.00" r="7.60" fill="#f2f2f2"/>
<circle cx="384.60" cy="653.00" r="7.60" fill="#f2f2f2"/>
<circle cx="365.00" cy="660.00" r="9.00" fill="#f2f2f2"/>
<circle cx="376.60" cy="663.60" r="7.60" fill="#f2f2f2"/>
<circle cx="366.00" cy="673.00" r="7.60" fill="#f2f2f2"/>
<circle cx="444.00" cy="642.00" r="5.60" fill="#f2f2f2"/>
<circle cx="460.60" cy="652.40" r="4.60" fill="#f2f2f2"/>
<circle cx="428.00" cy="658.60" r="5.00" fill="#f2f2f2"/>
<circle cx="443.40" cy="657.00" r="5.00" fill="#f2f2f2"/>
<circle cx="450.00" cy="656.40" r="5.00" fill="#f2f2f2"/>
<circle cx="436.40" cy="673.40" r="5.60" fill="#f2f2f2"/>
<circle cx="454.00" cy="671.40" r="4.00" fill="#f2f2f2"/>
<circle cx="514.40" cy="640.60" r="5.00" fill="#f2f2f2"/>
<circle cx="528.00" cy="648.00" r="4.60" fill="#f2f2f2"/>
<circle cx="496.60" cy="656.60" r="4.40" fill="#f2f2f2"/>
<circle cx="505.60" cy="658.00" r="4.40" fill="#f2f2f2"/>
<circle cx="513.60" cy="660.60" r="4.40" fill="#f2f2f2"/>
<circle cx="505.00" cy="668.40" r="4.00" fill="#f2f2f2"/>
<circle cx="507.80" cy="678.60" r="5.00" fill="#f2f2f2"/>
<circle cx="580.60" cy="650.60" r="1.20" fill="#f2f2f2"/>
<circle cx="595.00" cy="650.60" r="2.00" fill="#f2f2f2"/>
<circle cx="581.00" cy="666.00" r="2.40" fill="#f2f2f2"/>
<circle cx="587.80" cy="669.20" r="2.00" fill="#f2f2f2"/>
</g></g>
<g>
<rect x="615.00" y="355.00" width="259.40" height="352.40" fill="#242424"/>
<g filter="url(#soft)">
<circle cx="650.40" cy="391.40" r="29.00" fill="url(#lg0)"/>
<circle cx="716.40" cy="391.40" r="24.40" fill="url(#lg8)"/>
<circle cx="783.40" cy="390.00" r="24.00" fill="url(#lg9)"/>
<circle cx="848.00" cy="390.00" r="20.40" fill="url(#lg10)"/>
<path d="M854.6 388.2h0M866.1 392.7h0M850.6 395.8h0M841.7 381.2h0M854.8 384.3h0M858.0 387.4h0M833.7 379.5h0M841.0 373.8h0M846.9 386.1h0M858.4 380.4h0M845.0 397.4h0M856.2 378.7h0M862.9 383.9h0M861.4 386.7h0M843.4 376.4h0M847.1 407.9h0M841.8 405.0h0M858.5 403.0h0M844.1 383.1h0M860.8 394.1h0M834.8 389.5h0M835.4 398.0h0M856.8 384.9h0M838.2 400.0h0M843.8 403.5h0M836.4 386.8h0M841.8 378.2h0M863.6 399.6h0M840.6 399.5h0M833.5 400.2h0M843.4 393.3h0M842.8 399.7h0M849.3 393.3h0M832.0 386.4h0M859.0 384.1h0M834.1 387.9h0M863.8 389.1h0M832.6 392.6h0M851.5 373.8h0M860.9 391.5h0M855.2 403.4h0M839.3 393.8h0M865.4 394.7h0M844.2 395.1h0M849.9 399.1h0" stroke="#c8c8c8" stroke-width="1.4" stroke-linecap="round" fill="none"/>
<circle cx="650.00" cy="459.00" r="26.00" fill="url(#lg4)"/>
<circle cx="717.40" cy="458.40" r="22.40" fill="url(#lg11)"/>
<path d="M723.1 452.0h0M716.4 464.6h0M708.4 460.1h0M707.8 472.7h0M733.8 450.0h0M729.4 461.4h0M719.5 455.4h0M721.5 471.9h0M704.5 470.2h0M714.7 444.9h0M717.5 468.1h0M713.4 451.5h0M729.8 448.0h0M730.7 463.4h0M714.1 455.9h0M713.9 458.7h0M717.5 457.1h0M703.9 443.6h0M722.9 450.4h0M710.0 456.8h0M725.6 474.5h0M705.4 472.6h0M708.7 457.7h0M716.0 466.3h0M725.0 446.2h0M711.4 441.2h0M726.1 457.0h0M701.8 468.9h0M718.3 445.9h0M719.8 462.3h0" stroke="#ededed" stroke-width="2.0" stroke-linecap="round" fill="none"/>
<circle cx="782.60" cy="458.00" r="22.00" fill="url(#lg12)"/>
<path d="M775.6 464.6h0M763.2 455.8h0M791.1 470.1h0M792.7 446.5h0M765.5 455.1h0M801.7 460.6h0M775.7 441.6h0M785.4 452.5h0M790.2 461.4h0M763.4 457.4h0M793.3 451.1h0M770.4 446.2h0M772.9 474.9h0M798.4 452.0h0M797.0 447.7h0M776.1 448.8h0M780.7 467.5h0M800.4 464.7h0M781.7 460.9h0M780.0 463.8h0M771.9 461.9h0M788.8 470.2h0M772.5 464.0h0M786.8 447.9h0M764.7 453.2h0M794.3 454.9h0M801.3 462.9h0M773.4 457.2h0M789.3 465.0h0M765.0 460.1h0" stroke="#ededed" stroke-width="2.0" stroke-linecap="round" fill="none"/>
<circle cx="849.00" cy="456.00" r="20.00" fill="url(#lg13)"/>
<path d="M844.3 455.9h0M843.1 465.4h0M860.8 449.0h0M835.2 459.6h0M863.2 460.5h0M854.3 442.2h0M842.8 463.4h0M854.1 456.3h0M855.8 466.0h0M850.5 447.7h0M847.2 454.1h0M846.1 464.3h0" stroke="#6e6e6e" stroke-width="1.0" stroke-linecap="round" fill="none"/>
<circle cx="650.00" cy="524.00" r="22.69" fill="#e8e8e8"/>
<path d="M671.9 526.2h0M671.1 530.0h0M669.8 533.5h0M667.8 536.8h0M665.3 539.7h0M662.4 542.1h0M659.0 544.0h0M655.4 545.3h0M651.6 545.9h0M647.8 545.9h0M644.0 545.1h0M640.5 543.8h0M637.2 541.8h0M634.3 539.3h0M631.9 536.4h0M630.0 533.0h0M628.7 529.4h0M628.1 525.6h0M628.1 521.8h0M628.9 518.0h0M630.2 514.5h0M632.2 511.2h0M634.7 508.3h0M637.6 505.9h0M641.0 504.0h0M644.6 502.7h0M648.4 502.1h0M652.2 502.1h0M656.0 502.9h0M659.5 504.2h0M662.8 506.2h0M665.7 508.7h0M668.1 511.6h0M670.0 515.0h0M671.3 518.6h0M671.9 522.4h0" stroke="#f0f0f0" stroke-width="5.2" stroke-linecap="round" fill="none"/>
<path d="M708.8 506.1h0M709.4 534.8h0M708.2 521.1h0M700.1 534.7h0M699.0 517.7h0M714.6 542.6h0M717.9 514.7h0M716.9 538.9h0M705.1 538.1h0M709.8 527.6h0M715.6 519.7h0M707.2 517.2h0M716.8 531.2h0M715.9 525.9h0M699.2 530.5h0M726.6 540.2h0M725.8 531.2h0M722.7 526.2h0M732.5 531.7h0M728.8 517.6h0M734.3 518.4h0M704.2 527.7h0M723.6 514.1h0M712.2 539.2h0M708.7 540.7h0M720.3 508.7h0M714.7 512.0h0M724.5 517.7h0M729.8 513.8h0M734.9 525.3h0M719.3 518.0h0M710.6 515.8h0M729.3 528.3h0M702.7 519.1h0M702.5 514.7h0M710.8 510.7h0M713.3 522.5h0M697.3 524.2h0M726.9 508.9h0M726.3 522.6h0M717.1 506.8h0M701.6 525.2h0M705.7 531.9h0M714.0 504.4h0M728.1 536.9h0M719.8 528.0h0M720.8 537.6h0M712.4 532.8h0M705.2 510.1h0M731.5 535.2h0M721.1 523.0h0M721.6 505.4h0M714.6 516.2h0M730.6 524.8h0M705.9 513.5h0M721.5 534.1h0M713.9 508.1h0M715.0 535.2h0M701.0 511.0h0M731.4 520.7h0M724.5 537.2h0M705.1 523.7h0M718.6 543.4h0M723.3 541.6h0M733.4 514.7h0M722.2 530.5h0M711.2 543.1h0M732.9 528.1h0M703.8 534.8h0M713.4 528.5h0M699.4 521.4h0M712.0 518.9h0M709.4 531.2h0M696.7 527.9h0M723.9 510.7h0M698.6 514.2h0M720.7 512.3h0" stroke="#f0f0f0" stroke-width="4.0" stroke-linecap="round" fill="none"/>
<path d="M783.0 511.3h0M777.5 511.5h0M795.3 523.2h0M773.3 528.2h0M790.3 539.1h0M775.9 514.8h0M786.8 509.5h0M790.6 531.2h0M779.6 528.8h0M783.6 522.6h0M770.8 535.7h0M788.4 528.3h0M788.4 517.9h0M800.7 521.3h0M775.3 523.3h0M769.6 521.4h0M772.0 510.9h0M786.8 531.3h0M787.0 525.3h0M779.1 536.6h0M795.6 516.7h0M786.9 540.7h0M780.4 532.0h0M768.5 526.0h0M789.4 507.0h0M801.6 524.6h0M786.3 536.1h0M793.9 532.7h0M791.5 515.7h0M774.3 518.2h0M772.5 532.9h0M774.7 506.4h0M765.8 522.5h0M797.1 527.5h0M776.0 530.2h0M782.6 535.8h0M766.9 516.5h0M797.4 511.0h0M783.3 539.3h0M793.5 507.7h0M779.8 540.2h0M798.6 531.7h0M784.5 518.4h0M769.2 529.3h0M795.0 536.1h0M783.3 529.0h0M786.1 514.4h0M791.8 522.8h0M779.3 523.5h0M780.2 515.1h0M775.4 538.1h0M781.1 519.9h0M793.2 512.7h0M770.8 515.7h0M783.3 506.8h0M793.6 526.2h0M799.9 515.6h0M787.7 521.8h0M786.7 505.2h0M790.7 535.8h0M780.4 504.6h0M768.1 533.5h0M798.0 519.2h0M778.4 508.2h0M776.3 526.7h0M801.1 529.6h0M778.0 518.2h0M789.3 511.7h0M791.9 519.3h0M765.1 526.5h0M772.1 524.7h0M768.7 511.6h0M775.7 534.5h0M798.2 535.1h0M781.9 526.0h0M765.2 519.2h0M783.8 532.6h0M793.4 529.5h0" stroke="#f0f0f0" stroke-width="3.8" stroke-linecap="round" fill="none"/>
<path d="M661.9 587.0h0M655.9 608.6h0M666.3 590.6h0M637.9 598.7h0M662.1 581.2h0M662.3 604.1h0M644.8 596.5h0M657.0 599.2h0M635.8 592.5h0M639.8 587.3h0M652.2 590.7h0M671.4 586.2h0M643.9 579.1h0M642.4 603.0h0M659.1 572.6h0M649.9 576.5h0M649.4 585.6h0M656.0 586.2h0M650.7 600.8h0M670.9 593.8h0M635.9 580.1h0M645.1 571.6h0M645.3 608.8h0M652.6 570.4h0M639.0 574.5h0M664.8 598.6h0M666.0 575.7h0M660.3 593.5h0M669.6 580.5h0M633.3 586.2h0M656.8 578.3h0" stroke="#f0f0f0" stroke-width="7.2" stroke-linecap="round" fill="none"/>
<path d="M723.5 574.9h0M723.1 607.9h0M711.4 600.5h0M705.4 587.6h0M722.5 581.6h0M732.0 584.5h0M722.0 590.0h0M703.1 598.4h0M732.0 595.2h0M714.9 587.2h0M718.0 599.2h0M731.2 602.9h0M711.0 592.8h0M711.3 576.5h0M717.4 577.8h0M716.2 606.7h0M736.2 590.4h0M726.1 598.8h0M705.5 580.2h0M729.8 577.8h0" stroke="#f0f0f0" stroke-width="6.6" stroke-linecap="round" fill="none"/>
<path d="M788.7 600.0h0M787.5 581.9h0M767.3 592.9h0M801.2 587.0h0M786.5 594.0h0M780.0 583.4h0M793.4 587.9h0M775.0 598.6h0M777.9 588.8h0M793.6 595.0h0M767.2 585.8h0M774.2 575.8h0M783.9 586.7h0M787.8 575.2h0M774.2 603.9h0M779.8 577.0h0M786.4 604.9h0M779.3 602.0h0M782.7 571.8h0M794.5 580.3h0M772.5 588.8h0M769.9 598.0h0M769.4 579.6h0M799.9 593.9h0M781.0 593.2h0M775.6 580.7h0M793.2 574.8h0M795.6 600.3h0M788.3 589.3h0M791.9 604.5h0M783.5 598.7h0" stroke="#eeeeee" stroke-width="4.4" stroke-linecap="round" fill="none"/>
<circle cx="649.00" cy="643.40" r="4.80" fill="#f2f2f2"/>
<circle cx="670.00" cy="652.60" r="5.00" fill="#f2f2f2"/>
<circle cx="701.60" cy="658.40" r="5.60" fill="#f2f2f2"/>
<circle cx="725.60" cy="652.60" r="5.40" fill="#f2f2f2"/>
<circle cx="722.00" cy="674.00" r="5.60" fill="#f2f2f2"/>
<circle cx="798.40" cy="646.40" r="1.80" fill="#f2f2f2"/>
<circle cx="794.40" cy="653.00" r="2.40" fill="#f2f2f2"/>
<circle cx="802.60" cy="656.60" r="2.60" fill="#f2f2f2"/>
</g></g>
<g>
<rect x="881.00" y="355.00" width="261.00" height="352.40" fill="#242424"/>
<g filter="url(#soft)">
<circle cx="915.00" cy="396.00" r="27.60" fill="url(#lg14)"/>
<circle cx="933.00" cy="375.00" r="7.00" fill="#f2f2f2"/>
<circle cx="981.00" cy="394.40" r="24.00" fill="url(#lg15)"/>
<circle cx="1048.00" cy="394.00" r="23.00" fill="url(#lg16)"/>
<circle cx="916.60" cy="462.00" r="25.00" fill="url(#lg17)"/>
<circle cx="982.60" cy="463.00" r="22.40" fill="url(#lg6)"/>
<path d="M968.1 456.1h0M986.9 453.3h0M971.6 447.5h0M989.9 458.3h0M973.4 450.1h0M962.8 462.6h0M969.4 460.6h0M997.7 457.4h0M979.0 473.6h0M978.0 463.1h0M969.1 452.2h0M966.0 471.3h0M996.1 456.4h0M979.7 456.7h0M1001.3 469.9h0M980.6 472.1h0M996.5 452.4h0M990.8 471.0h0M983.1 473.5h0M997.2 463.6h0M985.2 469.1h0M1001.0 466.9h0M982.4 447.9h0M988.1 468.5h0M992.5 466.7h0M985.2 471.5h0M974.8 451.8h0M970.7 465.0h0M965.3 458.7h0M980.7 468.0h0M983.9 456.4h0M984.3 461.2h0M975.0 480.4h0M980.2 455.2h0M966.8 463.5h0M988.4 464.2h0M972.3 462.6h0M996.7 449.2h0M979.7 463.3h0M968.2 473.9h0" stroke="#ededed" stroke-width="2.6" stroke-linecap="round" fill="none"/>
<circle cx="1048.00" cy="463.00" r="22.40" fill="url(#lg18)"/>
<path d="M1045.0 468.8h0M1054.7 478.6h0M1040.2 455.5h0M1035.5 450.7h0M1066.0 459.1h0M1031.4 470.3h0M1064.8 454.5h0M1048.0 447.6h0M1029.5 461.7h0M1048.8 469.1h0M1046.0 478.3h0M1039.9 459.0h0M1055.4 481.2h0M1065.5 471.4h0M1050.1 447.9h0M1064.6 462.5h0M1067.5 463.8h0M1031.5 473.0h0M1050.9 456.1h0M1050.8 463.7h0M1051.4 445.4h0M1036.0 476.4h0M1046.9 444.3h0M1049.3 460.8h0M1056.1 471.4h0M1040.5 475.0h0M1039.4 465.8h0M1055.9 467.5h0M1052.4 467.6h0M1041.8 466.7h0M1052.6 448.8h0M1032.4 467.0h0M1048.3 466.1h0M1058.3 468.6h0M1041.5 470.8h0M1041.6 480.3h0M1061.5 463.7h0M1040.1 470.2h0M1046.5 453.6h0M1055.8 465.1h0M1059.7 461.4h0M1062.7 476.3h0M1035.9 447.4h0M1039.1 478.8h0M1057.5 465.5h0M1051.1 450.9h0M1052.0 459.1h0M1041.8 456.9h0M1044.4 479.8h0M1061.3 454.2h0M1049.6 479.4h0M1065.2 457.5h0M1036.0 467.4h0M1062.4 473.3h0M1053.1 470.9h0M1037.6 472.3h0M1053.9 474.7h0M1048.3 456.7h0M1057.6 474.0h0M1063.9 452.0h0" stroke="#ededed" stroke-width="2.6" stroke-linecap="round" fill="none"/>
<circle cx="916.00" cy="527.00" r="20.83" fill="#d7d7d7"/>
<path d="M936.1 529.0h0M935.3 532.8h0M933.9 536.3h0M931.8 539.5h0M929.1 542.3h0M926.0 544.5h0M922.5 546.1h0M918.8 547.0h0M914.9 547.1h0M911.2 546.6h0M907.5 545.3h0M904.2 543.4h0M901.3 540.8h0M899.0 537.8h0M897.2 534.4h0M896.2 530.7h0M895.8 526.9h0M896.2 523.1h0M897.3 519.4h0M899.1 516.0h0M901.5 513.0h0M904.4 510.5h0M907.7 508.6h0M911.3 507.4h0M915.1 506.9h0M919.0 507.1h0M922.7 508.0h0M926.2 509.6h0M929.3 511.8h0M931.9 514.6h0M934.0 517.8h0M935.4 521.4h0M936.1 525.2h0" stroke="#dfdfdf" stroke-width="5.2" stroke-linecap="round" fill="none"/>
<path d="M976.7 527.5h0M995.5 516.3h0M993.3 521.7h0M971.1 539.9h0M986.8 511.4h0M968.3 530.6h0M976.7 543.2h0M972.1 527.2h0M964.2 534.8h0M982.9 539.7h0M976.0 546.8h0M998.3 522.2h0M984.9 522.0h0M982.4 545.0h0M978.1 535.4h0M992.7 532.1h0M989.0 516.1h0M969.3 517.9h0M975.9 538.4h0M994.9 541.3h0M984.8 528.0h0M981.0 525.3h0M972.6 535.4h0M984.1 530.9h0M966.2 524.9h0M977.3 521.4h0M987.4 529.6h0M990.1 547.1h0M978.8 540.5h0M972.9 524.3h0M975.3 534.1h0M989.2 542.1h0M986.8 544.7h0M973.5 544.0h0M992.6 527.7h0M982.3 518.6h0M989.5 527.1h0M981.5 511.3h0M985.8 519.0h0M977.2 517.3h0M986.2 535.0h0M981.1 529.9h0M985.5 540.9h0M982.8 549.2h0M985.4 514.0h0M988.9 524.0h0M990.4 537.3h0M995.9 532.3h0M967.9 540.2h0M976.9 513.3h0M973.0 515.9h0M989.9 533.7h0M1000.1 528.9h0M980.9 522.0h0M991.2 519.5h0M996.7 519.0h0M997.6 536.7h0M967.7 533.4h0M968.9 543.7h0M967.1 520.0h0M1000.0 535.0h0M969.9 523.0h0M996.8 525.7h0M985.5 525.0h0M998.2 539.9h0M979.9 515.1h0M980.6 533.5h0M972.1 530.3h0M993.2 534.9h0M980.2 547.9h0M992.5 545.0h0M982.7 535.5h0M977.4 530.9h0M987.3 538.2h0M1000.3 524.7h0M978.2 524.4h0M963.2 530.8h0M973.1 519.7h0M964.8 522.1h0M994.7 538.3h0" stroke="#d7d7d7" stroke-width="3.4" stroke-linecap="round" fill="none"/>
<path d="M1042.0 538.2h0M1044.7 541.7h0M1063.9 538.0h0M1059.4 543.3h0M1060.1 530.0h0M1045.3 546.9h0M1037.3 544.0h0M1043.4 532.6h0M1044.5 531.4h0M1040.3 528.6h0M1049.4 535.2h0M1039.5 545.1h0M1033.1 524.6h0M1054.0 516.9h0M1046.8 526.1h0M1030.7 525.1h0M1062.8 519.6h0M1045.3 534.0h0M1038.2 537.0h0M1046.7 545.7h0M1032.0 521.4h0M1039.1 517.8h0M1030.3 529.5h0M1037.7 518.1h0M1057.0 543.6h0M1039.0 511.2h0M1040.8 532.8h0M1058.5 531.6h0M1038.4 528.0h0M1046.6 519.7h0M1054.5 524.3h0M1050.7 534.0h0M1052.3 510.5h0M1044.6 519.2h0M1056.4 514.3h0M1048.7 518.0h0M1046.2 527.6h0M1052.2 531.4h0M1033.2 517.0h0M1046.4 535.0h0M1046.2 531.6h0M1058.7 533.0h0M1055.0 522.1h0M1050.0 516.6h0M1062.8 525.9h0M1048.8 538.9h0M1036.1 525.6h0M1030.1 533.6h0M1047.5 509.8h0M1056.3 519.6h0M1036.5 542.0h0M1031.2 519.5h0M1060.2 539.7h0M1045.4 509.0h0M1048.0 542.9h0M1055.7 517.6h0M1052.0 534.7h0M1061.1 527.5h0M1066.1 523.4h0M1053.6 535.4h0M1048.6 520.0h0M1060.5 514.9h0M1049.1 542.0h0M1056.6 529.7h0M1064.4 518.1h0M1041.6 534.5h0M1035.2 522.3h0M1039.8 514.0h0M1044.9 538.6h0M1035.0 530.0h0" stroke="#969696" stroke-width="1.6" stroke-linecap="round" fill="none"/>
<path d="M925.5 591.5h0M931.2 594.1h0M935.5 589.0h0M928.7 607.3h0M925.3 586.5h0M917.3 600.6h0M902.7 593.4h0M920.3 605.2h0M909.5 590.7h0M913.1 586.5h0M926.1 603.4h0M922.0 578.9h0M922.5 598.1h0M926.7 581.3h0M908.6 604.8h0M905.1 579.1h0M918.7 582.7h0M913.0 597.3h0M909.1 583.6h0M928.6 597.9h0M917.6 573.9h0M902.0 584.9h0M906.6 599.5h0M930.9 583.4h0M914.1 592.1h0M900.8 598.4h0M921.1 610.4h0M918.2 594.6h0M919.2 588.9h0M926.3 576.2h0M904.5 589.1h0M912.8 574.0h0M932.8 599.5h0M913.5 603.8h0" stroke="#d7d7d7" stroke-width="3.4" stroke-linecap="round" fill="none"/>
<path d="M979.8 596.8h0M977.4 602.9h0M981.8 582.1h0M992.5 594.2h0M989.7 601.8h0M967.5 597.1h0M969.2 605.1h0M965.6 588.7h0M978.0 587.4h0M989.8 581.7h0M971.8 578.1h0M992.0 587.8h0M985.1 607.3h0M971.5 585.4h0" stroke="#bebebe" stroke-width="2.4" stroke-linecap="round" fill="none"/>
<path d="M1054.6 586.0h0M1032.9 596.0h0M1045.9 592.2h0M1038.2 592.2h0" stroke="#787878" stroke-width="1.6" stroke-linecap="round" fill="none"/>
<circle cx="907.60" cy="645.60" r="2.40" fill="#c8c8c8"/>
<circle cx="904.60" cy="652.00" r="2.00" fill="#c8c8c8"/>
<circle cx="897.40" cy="664.40" r="2.20" fill="#c8c8c8"/>
<circle cx="908.00" cy="670.00" r="1.60" fill="#c8c8c8"/>
<circle cx="916.60" cy="669.40" r="1.80" fill="#c8c8c8"/>
<circle cx="924.40" cy="669.20" r="2.20" fill="#c8c8c8"/>
<circle cx="984.00" cy="673.00" r="1.60" fill="#c8c8c8"/>
<circle cx="982.40" cy="654.00" r="1.00" fill="#c8c8c8"/>
<circle cx="993.00" cy="642.00" r="0.80" fill="#c8c8c8"/>
</g></g>
<g>
<rect x="1148.00" y="355.00" width="259.40" height="352.40" fill="#242424"/>
<g filter="url(#soft)">
<circle cx="1182.00" cy="392.40" r="29.00" fill="url(#lg0)"/>
<circle cx="1248.60" cy="392.00" r="24.00" fill="url(#lg19)"/>
<circle cx="1315.00" cy="391.40" r="24.00" fill="url(#lg2)"/>
<circle cx="1380.00" cy="392.00" r="21.60" fill="url(#lg20)"/>
<circle cx="1182.60" cy="457.40" r="27.00" fill="url(#lg4)"/>
<circle cx="1249.00" cy="460.00" r="22.40" fill="url(#lg6)"/>
<path d="M1236.5 468.1h0M1254.5 453.5h0M1249.5 463.4h0M1250.4 461.3h0M1257.0 472.0h0M1265.8 458.9h0M1239.7 468.9h0M1244.9 449.3h0M1265.6 468.2h0M1244.0 455.5h0M1254.6 462.6h0M1255.4 458.3h0M1235.0 445.9h0M1261.2 462.7h0M1229.9 462.7h0M1252.9 469.5h0M1240.6 443.8h0M1245.4 461.5h0M1245.1 443.1h0M1242.4 450.5h0M1256.8 446.0h0M1236.5 452.1h0M1250.4 473.5h0M1253.6 444.0h0M1238.7 475.0h0M1251.2 456.4h0M1254.2 468.0h0M1266.4 461.6h0M1240.0 448.2h0M1261.0 459.6h0M1251.1 466.4h0M1245.2 456.9h0M1255.9 474.6h0M1244.6 475.6h0M1248.8 461.6h0" stroke="#ededed" stroke-width="2.0" stroke-linecap="round" fill="none"/>
<circle cx="1315.60" cy="459.00" r="22.40" fill="url(#lg6)"/>
<path d="M1313.1 475.5h0M1309.4 452.7h0M1325.5 443.5h0M1312.0 478.4h0M1315.2 464.1h0M1296.9 457.6h0M1303.5 450.3h0M1304.9 459.8h0M1311.7 471.2h0M1296.9 453.3h0M1324.7 463.5h0M1330.9 453.3h0M1327.6 465.0h0M1304.4 443.4h0M1332.1 468.7h0M1317.0 448.4h0M1297.7 455.2h0M1316.3 475.9h0M1310.5 457.0h0M1313.8 471.8h0M1328.1 474.1h0M1315.6 468.7h0M1310.8 469.4h0M1296.4 459.4h0M1319.6 447.2h0M1332.5 455.0h0M1310.4 446.5h0M1318.7 475.5h0M1315.5 457.6h0M1310.1 472.7h0M1317.3 466.0h0M1316.6 461.3h0M1324.8 467.7h0M1299.5 458.9h0M1313.0 465.7h0" stroke="#ededed" stroke-width="2.0" stroke-linecap="round" fill="none"/>
<circle cx="1382.00" cy="458.00" r="20.40" fill="url(#lg21)"/>
<path d="M1394.8 451.0h0M1375.4 444.3h0M1375.8 470.7h0M1383.0 455.9h0M1383.8 452.0h0M1387.0 458.5h0M1366.3 451.5h0M1388.5 454.7h0M1365.9 465.7h0M1394.7 447.2h0M1382.1 467.6h0M1387.6 465.6h0M1368.5 467.2h0M1377.9 451.6h0M1387.3 469.1h0M1391.7 450.0h0M1385.7 443.2h0M1373.1 466.6h0M1385.1 448.8h0M1387.9 473.7h0M1367.4 459.8h0M1383.7 461.3h0M1383.9 469.9h0M1391.4 460.0h0M1393.4 453.7h0M1398.4 458.5h0M1379.6 465.2h0M1372.3 446.6h0M1389.6 450.5h0M1380.6 458.0h0M1373.7 452.6h0M1372.8 444.9h0M1373.9 470.6h0M1385.7 445.9h0M1386.7 456.3h0M1376.5 463.0h0M1381.0 475.3h0M1371.2 455.9h0M1364.2 458.4h0M1377.7 465.6h0M1383.8 458.3h0M1378.0 453.3h0M1368.0 464.1h0M1368.5 469.4h0M1369.3 449.9h0M1398.3 449.8h0M1376.0 456.7h0M1364.6 455.2h0M1384.4 467.0h0M1380.6 466.7h0M1393.3 464.7h0M1381.0 455.2h0M1382.7 460.0h0M1378.1 447.0h0M1386.9 471.0h0M1371.3 463.3h0M1380.3 461.2h0M1368.3 454.7h0M1383.2 442.5h0M1372.2 442.9h0M1376.5 472.7h0M1378.6 471.8h0M1368.3 445.9h0M1373.0 458.6h0M1396.5 453.7h0M1395.6 456.2h0M1383.6 449.1h0M1390.3 445.0h0M1392.8 471.8h0M1376.4 474.7h0" stroke="#ededed" stroke-width="2.0" stroke-linecap="round" fill="none"/>
<circle cx="1182.00" cy="526.00" r="24.18" fill="#e8e8e8"/>
<path d="M1205.3 528.3h0M1204.6 532.1h0M1203.3 535.8h0M1201.4 539.1h0M1198.9 542.1h0M1196.1 544.7h0M1192.8 546.8h0M1189.2 548.3h0M1185.5 549.1h0M1181.6 549.4h0M1177.7 549.0h0M1174.0 548.0h0M1170.5 546.4h0M1167.3 544.2h0M1164.5 541.5h0M1162.2 538.5h0M1160.4 535.0h0M1159.2 531.4h0M1158.6 527.5h0M1158.7 523.7h0M1159.4 519.9h0M1160.7 516.2h0M1162.6 512.9h0M1165.1 509.9h0M1167.9 507.3h0M1171.2 505.2h0M1174.8 503.7h0M1178.5 502.9h0M1182.4 502.6h0M1186.3 503.0h0M1190.0 504.0h0M1193.5 505.6h0M1196.7 507.8h0M1199.5 510.5h0M1201.8 513.5h0M1203.6 517.0h0M1204.8 520.6h0M1205.4 524.5h0" stroke="#f0f0f0" stroke-width="5.2" stroke-linecap="round" fill="none"/>
<path d="M1238.0 522.1h0M1253.8 528.0h0M1266.3 535.6h0M1248.3 528.4h0M1237.1 535.3h0M1237.3 511.8h0M1238.5 541.7h0M1257.9 526.6h0M1234.0 527.0h0M1249.6 534.6h0M1241.6 515.4h0M1269.4 524.5h0M1255.7 537.8h0M1259.3 531.6h0M1261.8 536.5h0M1246.3 518.1h0M1246.7 514.4h0M1251.4 523.5h0M1244.5 539.2h0M1256.7 517.8h0M1242.9 507.8h0M1262.9 520.1h0M1266.9 529.3h0M1251.4 544.6h0M1267.8 518.0h0M1260.8 511.7h0M1255.3 523.9h0M1262.3 529.0h0M1232.9 532.2h0M1246.0 542.8h0M1255.4 507.0h0M1255.7 512.2h0M1249.1 508.8h0M1251.4 531.1h0M1246.2 522.3h0M1252.4 516.6h0M1260.1 541.6h0M1243.3 526.4h0M1263.4 524.3h0M1232.4 520.2h0M1244.0 532.6h0M1263.1 533.1h0M1236.9 515.6h0M1259.6 521.8h0M1242.0 519.0h0M1265.2 513.5h0M1255.7 544.2h0M1250.2 539.3h0M1238.2 531.8h0M1252.7 510.1h0M1260.7 517.0h0M1255.7 532.8h0M1241.5 536.9h0M1245.4 510.4h0M1264.0 539.4h0M1230.5 524.3h0M1241.6 543.7h0M1253.8 520.3h0M1251.7 506.4h0M1235.5 538.7h0M1238.2 528.1h0M1231.1 529.1h0M1266.6 521.8h0M1250.5 513.5h0M1249.3 520.4h0M1240.8 510.8h0M1253.7 541.0h0M1241.5 529.8h0M1241.9 522.8h0M1233.2 515.9h0M1258.5 509.0h0M1232.9 536.1h0" stroke="#f0f0f0" stroke-width="4.2" stroke-linecap="round" fill="none"/>
<path d="M1329.8 534.2h0M1335.9 527.3h0M1318.8 519.2h0M1307.5 514.4h0M1332.5 526.2h0M1301.2 519.7h0M1328.5 519.9h0M1313.1 544.5h0M1319.3 509.5h0M1297.0 531.7h0M1310.9 515.9h0M1302.0 526.0h0M1310.8 538.8h0M1332.5 529.6h0M1313.2 532.4h0M1318.2 533.9h0M1320.6 524.8h0M1328.4 509.7h0M1325.7 539.0h0M1315.6 512.2h0M1316.0 539.6h0M1307.8 522.4h0M1302.7 510.9h0M1317.5 522.5h0M1328.2 528.8h0M1305.1 519.0h0M1312.2 509.8h0M1319.9 543.5h0M1314.6 528.1h0M1300.8 530.4h0M1322.1 532.4h0M1305.6 540.5h0M1329.3 538.5h0M1308.7 541.8h0M1327.4 513.8h0M1329.6 516.5h0M1307.3 533.2h0M1324.6 542.9h0M1320.0 512.8h0M1317.6 530.1h0M1325.2 524.6h0M1298.4 515.8h0M1312.9 521.6h0M1309.5 518.9h0M1301.6 538.3h0M1321.5 539.6h0M1333.3 515.3h0M1296.9 527.7h0M1316.7 505.0h0M1309.3 530.5h0M1335.1 520.0h0M1307.0 526.5h0M1317.4 516.2h0M1325.6 532.8h0M1312.2 535.5h0M1296.5 523.8h0M1323.4 509.9h0M1299.1 535.1h0M1307.5 508.7h0M1302.6 514.8h0M1324.1 535.7h0M1332.6 536.1h0M1299.8 523.0h0M1323.7 528.3h0M1321.7 506.7h0M1324.0 519.8h0M1315.1 507.8h0M1334.8 523.7h0M1329.2 524.1h0M1313.1 518.3h0M1321.4 515.8h0M1304.1 535.0h0M1324.9 516.4h0M1304.2 530.4h0M1311.8 525.7h0M1307.5 537.0h0M1297.9 519.3h0M1304.0 522.9h0M1317.8 526.4h0M1315.8 536.1h0M1309.5 511.8h0M1311.9 506.3h0M1331.6 512.5h0M1334.4 532.8h0M1318.8 537.3h0M1331.6 521.3h0M1316.8 544.9h0M1323.5 513.3h0M1325.4 507.3h0" stroke="#f0f0f0" stroke-width="3.8" stroke-linecap="round" fill="none"/>
<path d="M1365.8 530.5h0M1364.4 517.6h0M1390.0 519.5h0M1385.7 520.1h0M1379.5 520.1h0M1386.6 529.9h0M1371.2 535.5h0M1378.7 541.4h0M1380.9 509.0h0M1383.2 536.3h0M1381.3 521.8h0M1366.5 526.0h0M1389.6 531.5h0M1376.1 516.7h0M1391.0 536.0h0M1387.9 513.2h0M1378.2 524.3h0M1373.0 531.8h0M1385.9 511.1h0M1372.5 538.5h0M1392.8 516.0h0M1383.5 522.3h0M1373.1 515.2h0M1378.7 514.9h0M1372.9 522.9h0M1375.7 527.2h0M1368.5 529.5h0M1383.4 515.4h0M1375.4 519.9h0M1381.0 527.3h0M1376.4 535.6h0M1392.8 520.7h0M1378.5 517.9h0M1391.0 526.1h0M1391.2 512.3h0M1385.5 513.4h0M1380.9 517.0h0M1383.6 529.1h0M1370.9 530.5h0M1379.8 534.7h0M1370.3 516.5h0M1366.5 513.0h0M1364.3 532.8h0M1369.4 509.4h0M1376.7 538.1h0" stroke="#d7d7d7" stroke-width="2.6" stroke-linecap="round" fill="none"/>
<path d="M1179.5 599.0h0M1201.1 602.2h0M1200.7 581.6h0M1173.7 587.7h0M1167.1 598.3h0M1179.4 578.3h0M1199.2 593.5h0M1193.6 608.1h0M1185.9 587.9h0M1181.5 612.8h0M1191.5 599.7h0M1184.7 571.4h0M1164.9 585.5h0M1195.0 574.6h0M1172.9 607.8h0M1169.5 577.7h0" stroke="#f0f0f0" stroke-width="11.6" stroke-linecap="round" fill="none"/>
<path d="M1241.3 608.1h0M1250.4 588.5h0M1243.5 599.6h0M1264.3 585.9h0M1252.4 606.1h0M1231.6 591.2h0M1255.0 598.8h0M1265.4 594.0h0M1249.0 579.9h0M1241.9 588.6h0M1255.7 582.3h0M1240.4 576.7h0M1233.7 584.0h0M1264.8 600.9h0M1258.5 590.8h0M1253.5 574.3h0M1259.6 605.9h0M1234.0 599.7h0M1262.2 579.5h0M1237.7 593.9h0" stroke="#f0f0f0" stroke-width="7.2" stroke-linecap="round" fill="none"/>
<path d="M1301.1 593.9h0M1317.6 573.6h0M1309.5 573.0h0M1311.7 579.5h0M1324.7 602.2h0M1328.5 588.3h0M1317.7 594.4h0M1317.6 601.9h0M1321.5 578.8h0M1322.6 585.8h0M1304.1 601.1h0M1296.0 589.9h0M1302.6 588.0h0M1310.8 593.1h0M1300.3 581.2h0M1315.4 584.2h0M1328.7 594.1h0M1310.5 599.2h0M1298.4 599.6h0M1309.6 585.0h0M1310.8 606.3h0M1303.3 576.4h0M1327.7 582.1h0M1323.2 596.5h0" stroke="#f0f0f0" stroke-width="5.2" stroke-linecap="round" fill="none"/>
<path d="M1383.9 599.4h0M1365.5 579.7h0M1383.8 587.0h0M1368.9 598.0h0M1372.0 578.0h0M1362.4 591.4h0M1380.4 573.8h0M1369.7 585.8h0M1391.2 586.3h0M1373.9 591.7h0" stroke="#d2d2d2" stroke-width="2.8" stroke-linecap="round" fill="none"/>
<circle cx="1177.00" cy="652.00" r="7.60" fill="#f2f2f2"/>
<circle cx="1188.40" cy="646.00" r="7.60" fill="#f2f2f2"/>
<circle cx="1197.00" cy="655.60" r="7.60" fill="#f2f2f2"/>
<circle cx="1169.00" cy="665.60" r="7.60" fill="#f2f2f2"/>
<circle cx="1185.20" cy="675.00" r="8.00" fill="#f2f2f2"/>
<circle cx="1266.00" cy="648.00" r="6.60" fill="#f2f2f2"/>
<circle cx="1234.40" cy="660.40" r="6.40" fill="#f2f2f2"/>
<circle cx="1301.00" cy="643.00" r="3.20" fill="#f2f2f2"/>
<circle cx="1309.00" cy="642.00" r="3.60" fill="#f2f2f2"/>
<circle cx="1321.60" cy="637.60" r="2.60" fill="#f2f2f2"/>
<circle cx="1319.00" cy="645.00" r="4.00" fill="#f2f2f2"/>
<circle cx="1314.00" cy="655.60" r="3.00" fill="#f2f2f2"/>
<circle cx="1382.40" cy="652.40" r="1.40" fill="#f2f2f2"/>
</g></g>
<g>
<rect x="1413.40" y="355.00" width="261.20" height="352.40" fill="#242424"/>
<g filter="url(#soft)">
<circle cx="1451.00" cy="395.60" r="31.00" fill="url(#lg0)"/>
<circle cx="1518.40" cy="394.00" r="25.00" fill="url(#lg22)"/>
<circle cx="1584.60" cy="393.00" r="25.60" fill="url(#lg2)"/>
<circle cx="1650.00" cy="393.00" r="22.40" fill="url(#lg23)"/>
<circle cx="1452.40" cy="462.40" r="28.00" fill="url(#lg24)"/>
<circle cx="1519.00" cy="463.00" r="23.00" fill="url(#lg25)"/>
<path d="M1536.0 473.9h0M1529.5 477.4h0M1528.7 448.0h0M1515.1 474.6h0M1515.4 443.0h0M1511.1 450.0h0M1509.0 471.5h0M1516.4 449.7h0M1502.9 459.5h0M1516.2 459.9h0M1521.1 480.3h0M1501.9 454.9h0M1528.4 466.2h0M1501.1 462.8h0M1525.1 480.0h0M1509.3 469.1h0M1522.2 457.1h0M1529.6 458.3h0M1513.0 470.1h0M1500.4 466.8h0M1521.8 478.2h0M1508.4 467.2h0M1530.8 475.6h0M1506.8 470.2h0M1513.6 458.9h0M1527.1 445.2h0M1518.5 481.7h0M1515.4 452.3h0M1518.3 468.9h0M1504.7 464.2h0M1512.0 460.8h0M1510.5 464.5h0M1515.6 483.2h0M1524.3 446.2h0M1510.8 473.6h0" stroke="#ededed" stroke-width="2.0" stroke-linecap="round" fill="none"/>
<circle cx="1585.60" cy="462.00" r="23.00" fill="url(#lg26)"/>
<path d="M1581.3 447.1h0M1583.1 459.0h0M1583.4 453.0h0M1578.5 475.3h0M1598.1 457.9h0M1579.9 454.5h0M1595.2 458.2h0M1569.1 457.7h0M1581.3 448.9h0M1584.3 460.3h0M1601.0 460.6h0M1577.0 456.1h0M1569.1 464.1h0M1579.4 465.8h0M1592.0 480.3h0M1589.7 476.3h0M1590.7 448.7h0M1574.5 467.6h0M1583.6 475.4h0M1593.6 453.3h0M1602.4 468.2h0M1582.6 463.3h0M1586.1 444.4h0M1575.1 446.5h0M1583.3 480.8h0M1573.0 476.5h0M1570.0 470.4h0M1582.8 447.6h0M1596.4 468.0h0M1568.9 472.7h0" stroke="#ededed" stroke-width="2.0" stroke-linecap="round" fill="none"/>
<circle cx="1652.00" cy="459.00" r="21.00" fill="url(#lg27)"/>
<path d="M1649.9 449.6h0M1661.4 469.8h0M1644.4 452.3h0M1633.3 457.1h0M1643.8 447.7h0M1664.0 464.0h0M1670.4 461.6h0M1637.4 457.4h0M1650.4 455.6h0M1658.9 444.8h0M1668.3 466.9h0M1664.5 445.0h0M1667.1 468.9h0M1653.8 449.6h0M1665.6 466.4h0M1656.1 447.8h0M1645.9 469.6h0M1655.6 462.1h0M1636.3 452.3h0M1658.1 458.7h0M1646.4 475.1h0M1668.3 452.6h0M1640.5 447.6h0M1656.4 453.5h0M1643.6 472.9h0M1635.6 461.3h0M1667.9 456.4h0M1638.4 450.4h0M1657.3 456.4h0M1668.1 463.9h0M1661.2 446.8h0M1642.6 461.6h0M1657.5 451.8h0M1651.0 453.2h0M1647.8 454.5h0M1656.9 443.3h0M1660.8 443.0h0M1654.7 445.7h0M1643.5 467.6h0M1654.6 467.9h0M1656.0 471.4h0M1662.8 458.6h0M1654.3 460.0h0M1651.7 447.1h0M1670.1 456.4h0M1647.4 462.3h0M1641.5 449.0h0M1657.9 449.6h0M1649.9 463.7h0M1664.5 460.7h0M1659.0 466.8h0M1650.7 442.6h0M1643.8 450.6h0M1653.3 446.8h0M1651.8 465.4h0M1640.3 451.8h0M1649.0 441.7h0M1661.3 475.1h0M1648.0 474.8h0M1653.6 475.4h0M1643.9 470.0h0M1664.1 447.7h0M1653.1 440.9h0M1644.0 464.0h0M1658.8 446.3h0M1649.4 477.6h0M1665.3 448.6h0M1635.6 463.1h0M1639.9 457.2h0M1639.5 462.8h0M1658.0 464.9h0M1664.3 467.7h0M1659.6 472.8h0M1665.5 457.5h0M1638.0 455.6h0M1651.1 474.8h0M1652.1 469.8h0M1665.8 454.9h0M1656.6 473.4h0M1646.8 452.9h0" stroke="#ededed" stroke-width="2.0" stroke-linecap="round" fill="none"/>
<circle cx="1453.00" cy="529.00" r="25.11" fill="#e8e8e8"/>
<path d="M1477.2 531.4h0M1476.5 535.2h0M1475.2 538.8h0M1473.4 542.1h0M1471.1 545.2h0M1468.4 547.8h0M1465.2 550.0h0M1461.8 551.6h0M1458.2 552.7h0M1454.4 553.3h0M1450.6 553.2h0M1446.8 552.5h0M1443.2 551.2h0M1439.9 549.4h0M1436.8 547.1h0M1434.2 544.4h0M1432.0 541.2h0M1430.4 537.8h0M1429.3 534.2h0M1428.7 530.4h0M1428.8 526.6h0M1429.5 522.8h0M1430.8 519.2h0M1432.6 515.9h0M1434.9 512.8h0M1437.6 510.2h0M1440.8 508.0h0M1444.2 506.4h0M1447.8 505.3h0M1451.6 504.7h0M1455.4 504.8h0M1459.2 505.5h0M1462.8 506.8h0M1466.1 508.6h0M1469.2 510.9h0M1471.8 513.6h0M1474.0 516.8h0M1475.6 520.2h0M1476.7 523.8h0M1477.3 527.6h0" stroke="#f0f0f0" stroke-width="5.2" stroke-linecap="round" fill="none"/>
<path d="M1522.8 517.2h0M1529.1 520.9h0M1534.3 516.1h0M1517.6 535.8h0M1507.8 527.5h0M1509.1 518.7h0M1531.7 530.3h0M1503.8 523.3h0M1520.7 543.6h0M1526.4 545.2h0M1512.7 519.5h0M1534.4 543.6h0M1526.8 537.1h0M1513.8 527.4h0M1536.4 531.9h0M1525.6 507.7h0M1523.5 533.7h0M1530.7 535.3h0M1530.8 545.8h0M1522.2 510.3h0M1540.1 534.7h0M1537.3 526.7h0M1518.2 518.9h0M1524.1 522.8h0M1505.6 515.2h0M1515.1 541.1h0M1519.3 525.9h0M1528.0 525.8h0M1511.2 524.3h0M1514.6 514.7h0M1522.9 537.8h0M1508.0 540.0h0M1533.3 522.4h0M1535.4 539.2h0M1528.4 510.0h0M1516.4 508.0h0M1521.0 529.2h0M1503.0 536.7h0M1527.4 540.7h0M1518.6 532.4h0M1540.2 521.2h0M1511.4 510.2h0M1518.8 513.4h0M1501.5 526.9h0M1519.1 547.8h0M1511.6 538.1h0M1504.3 531.1h0M1528.9 513.5h0M1512.1 531.7h0M1508.5 512.8h0M1536.1 520.2h0M1504.7 519.7h0M1510.9 544.6h0M1527.6 533.0h0M1532.7 512.2h0M1499.8 530.6h0M1507.6 532.3h0M1541.3 528.5h0M1505.5 542.5h0M1526.2 518.0h0M1538.8 538.4h0M1525.5 512.9h0M1524.5 548.5h0M1518.3 539.4h0M1516.9 523.2h0M1523.7 526.5h0M1513.6 534.9h0M1531.5 539.7h0M1514.3 544.9h0M1507.2 536.1h0M1520.7 521.3h0M1534.2 535.9h0M1525.8 529.3h0M1538.7 517.9h0M1530.2 516.9h0M1533.0 526.0h0M1507.9 523.4h0M1501.4 520.6h0M1524.2 541.8h0M1517.0 529.3h0M1511.3 515.6h0M1520.6 507.2h0" stroke="#f0f0f0" stroke-width="4.0" stroke-linecap="round" fill="none"/>
<path d="M1582.2 510.1h0M1605.6 529.1h0M1599.1 517.3h0M1586.7 507.9h0M1603.1 531.5h0M1596.4 510.6h0M1574.9 529.0h0M1578.3 539.3h0M1594.6 533.5h0M1580.5 524.7h0M1603.9 535.8h0M1602.4 516.6h0M1577.7 530.7h0M1597.6 543.8h0M1595.9 524.8h0M1607.3 523.5h0M1594.9 515.6h0M1594.0 540.8h0M1589.0 545.4h0M1589.0 517.5h0M1581.3 516.2h0M1595.5 519.5h0M1574.7 511.8h0M1573.1 534.3h0M1575.6 537.5h0M1572.7 516.3h0M1589.5 527.1h0M1589.5 541.3h0M1591.3 521.0h0M1580.6 532.2h0M1584.0 544.4h0M1578.9 520.7h0M1598.8 532.6h0M1582.3 536.6h0M1592.3 517.6h0M1598.5 527.5h0M1601.9 538.6h0M1577.7 513.6h0M1583.9 528.6h0M1590.0 507.7h0M1597.5 539.5h0M1587.2 514.7h0M1585.8 538.9h0M1585.1 525.2h0M1603.4 521.0h0M1587.6 531.1h0M1593.5 529.7h0M1591.1 534.1h0M1574.5 523.4h0M1588.7 537.3h0M1577.1 542.9h0M1572.8 539.4h0M1584.5 520.0h0M1602.0 525.4h0M1594.1 536.8h0M1588.7 510.9h0M1580.7 542.2h0M1579.9 528.3h0M1570.2 520.2h0M1570.5 529.2h0M1592.2 525.3h0M1577.3 517.6h0M1600.3 512.4h0M1598.9 521.6h0M1585.9 534.7h0M1570.2 523.7h0M1578.5 509.6h0M1572.6 526.7h0M1578.9 535.6h0M1584.3 512.9h0M1593.7 545.3h0M1573.7 520.2h0M1597.4 535.9h0M1568.5 531.9h0M1592.9 509.7h0M1600.2 541.6h0M1584.5 516.6h0M1570.5 536.5h0M1588.1 521.8h0M1577.0 525.7h0M1605.6 518.1h0M1591.2 513.8h0M1567.8 526.1h0M1606.5 532.4h0M1580.5 545.4h0" stroke="#f0f0f0" stroke-width="3.8" stroke-linecap="round" fill="none"/>
<path d="M1641.9 539.2h0M1665.7 521.2h0M1643.8 512.1h0M1652.0 513.8h0M1651.6 532.3h0M1635.2 515.5h0M1666.2 533.8h0M1659.4 510.1h0M1634.3 523.7h0M1656.7 541.7h0M1643.3 523.6h0M1646.5 515.3h0M1645.1 510.0h0M1641.6 541.9h0M1656.7 538.6h0M1651.3 541.8h0M1659.7 527.9h0M1652.8 508.5h0M1643.5 532.7h0M1636.1 531.9h0M1639.9 522.8h0M1662.7 516.4h0M1646.0 539.4h0M1654.3 526.0h0M1656.7 536.0h0M1647.0 536.3h0M1646.3 519.0h0M1654.3 539.2h0M1644.1 536.2h0M1640.7 516.1h0M1649.9 539.3h0M1644.2 519.3h0M1661.2 534.7h0M1639.3 530.0h0M1641.1 536.5h0M1654.9 536.9h0M1647.7 522.7h0M1655.0 515.3h0M1649.1 515.2h0M1657.1 516.0h0M1649.6 513.2h0M1655.5 532.0h0M1644.1 542.0h0M1631.4 526.0h0M1654.7 519.3h0M1644.4 525.7h0M1649.4 525.1h0M1656.2 521.1h0M1651.1 511.2h0M1636.1 520.9h0M1667.8 525.2h0M1649.0 520.5h0M1656.4 525.9h0M1636.6 513.9h0M1638.6 521.0h0M1639.3 538.3h0M1665.3 530.9h0M1648.7 508.0h0M1653.9 534.7h0M1632.6 522.1h0M1652.0 537.9h0M1634.4 530.5h0M1664.4 519.5h0M1644.7 529.2h0M1653.5 523.5h0M1657.9 519.0h0M1646.2 543.3h0M1649.6 529.4h0M1640.8 532.8h0M1660.5 514.0h0" stroke="#cdcdcd" stroke-width="2.2" stroke-linecap="round" fill="none"/>
<path d="M1459.2 604.4h0M1473.8 600.6h0M1462.1 591.9h0M1442.7 604.8h0M1451.4 581.1h0M1450.0 593.8h0M1468.7 611.0h0M1450.5 614.9h0M1472.5 587.2h0" stroke="#f0f0f0" stroke-width="14.8" stroke-linecap="round" fill="none"/>
<path d="M1532.4 585.4h0M1506.1 601.0h0M1517.1 588.8h0M1512.4 578.6h0M1514.2 606.1h0M1510.7 584.4h0M1522.9 588.3h0M1505.6 590.7h0M1535.4 595.2h0M1533.0 601.0h0M1526.9 609.5h0M1520.9 598.7h0M1523.6 581.8h0M1526.4 603.2h0M1519.6 608.5h0M1530.6 579.3h0M1512.7 596.2h0M1527.6 597.5h0M1520.2 575.3h0M1528.7 590.4h0M1537.8 589.8h0M1505.0 584.8h0M1517.7 581.1h0" stroke="#f0f0f0" stroke-width="6.0" stroke-linecap="round" fill="none"/>
<path d="M1576.2 583.0h0M1591.6 599.3h0M1587.9 604.5h0M1594.7 587.9h0M1570.8 590.7h0M1590.9 579.1h0M1582.3 585.8h0M1576.7 592.6h0M1589.1 592.4h0M1597.9 595.1h0M1580.6 578.5h0M1574.6 597.8h0M1581.5 601.2h0M1588.3 585.0h0M1600.8 589.7h0M1597.4 581.4h0M1582.4 595.4h0M1585.0 575.1h0M1575.8 603.4h0M1570.6 585.0h0M1597.2 601.0h0" stroke="#f0f0f0" stroke-width="6.0" stroke-linecap="round" fill="none"/>
<path d="M1660.4 578.6h0M1638.9 600.9h0M1647.3 577.7h0M1635.6 584.7h0M1647.7 586.6h0M1665.1 592.5h0M1663.4 584.8h0M1653.7 603.1h0M1655.6 589.6h0M1650.8 571.8h0M1653.2 596.5h0M1644.2 604.3h0M1660.8 597.3h0M1654.4 582.9h0M1634.4 596.5h0M1638.4 577.4h0M1641.1 589.4h0M1646.0 597.7h0" stroke="#cdcdcd" stroke-width="2.6" stroke-linecap="round" fill="none"/>
<circle cx="1445.40" cy="645.00" r="8.00" fill="#f2f2f2"/>
<circle cx="1449.40" cy="661.60" r="8.40" fill="#f2f2f2"/>
<circle cx="1477.40" cy="667.00" r="9.00" fill="#f2f2f2"/>
<circle cx="1458.40" cy="676.00" r="10.00" fill="#f2f2f2"/>
<circle cx="1506.00" cy="649.60" r="5.60" fill="#f2f2f2"/>
<circle cx="1518.60" cy="651.00" r="5.40" fill="#f2f2f2"/>
<circle cx="1535.00" cy="660.00" r="4.40" fill="#f2f2f2"/>
<circle cx="1522.60" cy="670.40" r="6.40" fill="#f2f2f2"/>
<circle cx="1577.40" cy="655.60" r="4.80" fill="#f2f2f2"/>
<circle cx="1582.60" cy="650.40" r="2.40" fill="#f2f2f2"/>
<circle cx="1584.00" cy="661.60" r="4.40" fill="#f2f2f2"/>
<circle cx="1598.20" cy="669.00" r="4.40" fill="#f2f2f2"/>
<circle cx="1657.00" cy="639.60" r="1.60" fill="#f2f2f2"/>
<circle cx="1652.00" cy="649.40" r="1.60" fill="#f2f2f2"/>
<circle cx="1656.00" cy="653.60" r="1.20" fill="#f2f2f2"/>
</g></g>
<g>
<rect x="1681.00" y="355.00" width="261.00" height="352.40" fill="#242424"/>
<g filter="url(#soft)">
<circle cx="1715.40" cy="391.40" r="28.40" fill="url(#lg0)"/>
<circle cx="1781.00" cy="391.00" r="24.00" fill="url(#lg19)"/>
<circle cx="1847.60" cy="391.00" r="24.00" fill="url(#lg2)"/>
<circle cx="1912.60" cy="390.40" r="22.00" fill="url(#lg28)"/>
<circle cx="1716.00" cy="456.40" r="26.00" fill="url(#lg29)"/>
<circle cx="1781.60" cy="459.00" r="23.00" fill="url(#lg25)"/>
<path d="M1793.9 464.9h0M1781.9 472.8h0M1780.9 478.2h0M1765.0 452.4h0M1794.6 452.5h0M1774.3 460.5h0M1782.8 453.7h0M1776.1 465.4h0M1779.7 445.1h0M1766.6 458.5h0M1792.9 441.9h0M1768.3 473.1h0M1777.3 442.3h0M1790.9 457.7h0M1775.6 472.1h0M1777.7 469.5h0M1787.8 477.9h0M1800.6 455.4h0M1785.2 446.3h0M1788.7 459.8h0M1768.4 461.2h0M1772.8 446.3h0M1797.1 470.2h0M1768.8 465.4h0M1772.9 468.1h0M1799.4 449.2h0M1789.6 477.1h0M1788.6 441.6h0M1777.6 478.2h0M1769.4 452.1h0" stroke="#ededed" stroke-width="2.0" stroke-linecap="round" fill="none"/>
<circle cx="1846.60" cy="458.00" r="22.40" fill="url(#lg30)"/>
<path d="M1860.7 461.1h0M1851.5 467.6h0M1854.5 449.2h0M1851.4 446.8h0M1856.2 466.4h0M1850.5 464.9h0M1838.9 443.1h0M1853.7 473.7h0M1840.4 456.6h0M1860.3 467.9h0M1862.2 448.4h0M1842.4 454.9h0M1846.3 453.0h0M1847.7 452.1h0M1860.4 455.6h0M1848.0 464.2h0M1845.1 474.9h0M1845.9 463.6h0M1846.7 449.7h0M1852.7 465.9h0M1848.7 459.0h0M1838.9 455.5h0M1856.0 453.5h0M1831.6 456.0h0M1838.3 462.8h0M1851.9 454.0h0M1837.6 472.1h0M1846.0 460.9h0M1861.5 466.5h0M1834.6 456.3h0" stroke="#ededed" stroke-width="2.0" stroke-linecap="round" fill="none"/>
<circle cx="1914.40" cy="458.00" r="21.00" fill="url(#lg31)"/>
<path d="M1922.7 445.3h0M1917.2 466.1h0M1923.7 450.4h0M1903.6 454.3h0M1928.1 452.6h0M1919.9 447.3h0M1912.3 453.3h0M1921.8 465.3h0M1909.9 475.9h0M1916.6 471.9h0M1924.0 448.0h0M1927.1 448.4h0M1914.4 450.8h0M1908.5 474.6h0M1902.2 469.1h0M1902.0 443.9h0M1896.6 452.8h0M1921.9 444.0h0M1929.4 453.9h0M1898.2 463.4h0M1910.7 444.3h0M1913.8 444.1h0M1925.2 449.5h0M1915.7 454.8h0M1920.9 455.8h0M1906.4 463.7h0M1909.6 460.4h0M1897.0 460.5h0M1921.5 450.0h0M1924.5 457.0h0M1928.8 461.6h0M1908.6 471.6h0M1906.0 458.2h0M1916.6 456.5h0M1906.5 450.6h0M1913.0 465.9h0M1919.1 475.1h0M1918.0 440.6h0M1899.2 467.6h0M1899.5 457.3h0M1911.2 449.2h0M1930.5 457.7h0M1930.4 451.0h0M1915.6 461.0h0M1913.9 474.9h0M1923.2 455.0h0M1913.4 459.2h0M1910.2 464.0h0M1904.8 446.6h0M1906.4 448.3h0M1913.3 457.1h0M1908.5 442.3h0M1922.3 469.3h0M1915.1 473.2h0M1920.2 452.8h0M1924.5 461.4h0M1924.0 464.7h0M1932.7 459.5h0M1911.1 451.2h0M1922.4 474.9h0" stroke="#ededed" stroke-width="2.0" stroke-linecap="round" fill="none"/>
<circle cx="1715.40" cy="524.00" r="24.55" fill="#e8e8e8"/>
<path d="M1739.0 526.4h0M1738.4 530.1h0M1737.1 533.7h0M1735.2 537.1h0M1732.9 540.1h0M1730.1 542.7h0M1726.9 544.8h0M1723.4 546.4h0M1719.7 547.4h0M1715.9 547.8h0M1712.1 547.5h0M1708.3 546.7h0M1704.8 545.3h0M1701.5 543.3h0M1698.6 540.8h0M1696.1 537.9h0M1694.2 534.6h0M1692.7 531.1h0M1691.9 527.4h0M1691.6 523.5h0M1692.0 519.7h0M1693.0 516.0h0M1694.6 512.6h0M1696.7 509.4h0M1699.3 506.5h0M1702.3 504.2h0M1705.6 502.3h0M1709.2 501.1h0M1713.0 500.4h0M1716.8 500.3h0M1720.6 500.8h0M1724.3 502.0h0M1727.7 503.7h0M1730.8 505.9h0M1733.5 508.6h0M1735.7 511.7h0M1737.4 515.1h0M1738.6 518.8h0M1739.1 522.5h0" stroke="#f0f0f0" stroke-width="5.2" stroke-linecap="round" fill="none"/>
<path d="M1782.4 535.2h0M1782.7 512.9h0M1789.8 522.5h0M1798.9 534.9h0M1766.2 530.7h0M1775.6 540.5h0M1775.5 524.3h0M1767.4 525.4h0M1800.4 517.1h0M1797.1 515.4h0M1785.0 509.0h0M1768.9 513.7h0M1772.0 518.0h0M1771.9 532.4h0M1782.8 531.7h0M1779.4 516.3h0M1793.0 536.5h0M1782.2 522.4h0M1773.0 513.7h0M1776.3 518.3h0M1793.0 530.8h0M1790.1 510.8h0M1780.0 526.3h0M1789.3 538.0h0M1786.4 522.6h0M1802.1 521.1h0M1775.9 508.7h0M1794.5 527.7h0M1791.3 518.4h0M1786.3 533.7h0M1770.3 522.0h0M1801.5 527.9h0M1784.5 516.9h0M1772.1 507.7h0M1779.0 537.2h0M1774.4 534.5h0M1779.1 521.3h0M1784.6 505.2h0M1775.2 528.8h0M1792.4 507.0h0M1772.5 526.1h0M1796.1 512.2h0M1799.0 525.7h0M1792.4 514.3h0M1763.3 522.0h0M1785.4 538.5h0M1766.4 535.5h0M1779.1 507.0h0M1783.4 542.6h0M1771.4 539.8h0M1777.4 511.7h0M1779.8 529.6h0M1779.1 542.3h0M1796.5 532.8h0M1787.8 519.4h0M1787.9 542.2h0M1784.5 525.7h0M1786.2 512.7h0M1798.9 530.5h0M1797.3 521.5h0M1793.0 540.5h0M1763.0 526.7h0M1764.5 515.9h0M1789.1 527.3h0M1775.5 505.5h0M1770.6 536.0h0M1794.4 519.5h0M1789.7 531.9h0M1768.6 519.1h0M1788.7 505.0h0M1770.1 510.5h0M1781.3 504.6h0M1777.3 532.9h0M1794.8 509.3h0M1788.6 515.0h0M1795.5 524.3h0M1770.0 529.0h0M1780.8 509.9h0M1786.4 529.4h0M1773.9 520.7h0M1796.2 537.8h0M1782.1 538.7h0M1766.7 521.8h0M1781.8 519.1h0" stroke="#f0f0f0" stroke-width="3.8" stroke-linecap="round" fill="none"/>
<path d="M1832.6 531.9h0M1866.0 532.7h0M1856.3 532.7h0M1833.9 537.8h0M1866.5 529.2h0M1855.9 513.8h0M1836.7 509.2h0M1854.9 506.1h0M1853.2 539.2h0M1845.3 513.6h0M1839.6 541.5h0M1848.3 525.1h0M1840.1 506.7h0M1838.0 520.8h0M1867.2 523.0h0M1851.6 535.1h0M1837.5 516.4h0M1835.6 526.5h0M1863.2 524.5h0M1851.9 531.2h0M1839.8 534.4h0M1853.6 517.1h0M1858.5 520.7h0M1847.5 534.9h0M1844.3 545.0h0M1860.7 533.9h0M1856.0 541.2h0M1860.6 528.5h0M1849.5 506.0h0M1864.3 514.4h0M1829.8 529.2h0M1857.9 538.3h0M1848.9 511.8h0M1839.3 511.2h0M1863.8 537.9h0M1844.5 540.9h0M1846.4 508.7h0M1842.2 521.8h0M1848.3 519.8h0M1833.8 522.1h0M1854.7 529.2h0M1831.4 519.5h0M1828.3 523.1h0M1865.5 519.8h0M1851.7 519.7h0M1837.8 531.1h0M1852.8 525.5h0M1843.2 531.0h0M1831.8 524.7h0M1860.8 512.9h0M1833.8 517.0h0M1858.7 510.3h0M1849.8 541.7h0M1849.0 528.3h0M1841.1 537.8h0M1842.5 517.5h0M1848.7 515.9h0M1861.6 517.9h0M1847.0 538.5h0M1831.6 514.0h0M1843.4 527.5h0M1852.6 544.0h0M1845.2 522.9h0M1843.1 510.9h0M1859.5 524.3h0M1852.6 511.7h0M1840.5 529.1h0M1863.5 530.4h0M1843.3 505.5h0M1835.5 513.1h0M1854.8 520.7h0M1830.5 535.0h0M1860.6 540.3h0M1839.6 525.6h0M1836.8 539.8h0M1858.5 516.1h0M1844.3 535.1h0M1846.8 530.7h0M1848.4 545.1h0M1836.7 535.2h0M1866.6 516.7h0M1856.0 525.4h0M1840.6 514.9h0M1827.7 526.7h0M1855.2 509.5h0M1868.1 526.2h0M1862.0 521.4h0M1846.5 504.7h0M1854.9 535.9h0M1829.2 516.8h0" stroke="#f0f0f0" stroke-width="3.8" stroke-linecap="round" fill="none"/>
<path d="M1895.7 526.1h0M1929.2 525.9h0M1924.5 526.8h0M1914.3 535.5h0M1904.5 521.6h0M1900.9 524.9h0M1904.9 539.2h0M1922.3 518.0h0M1912.3 528.5h0M1919.0 513.5h0M1915.5 514.2h0M1907.9 543.4h0M1917.2 521.1h0M1905.2 524.4h0M1916.1 533.3h0M1926.6 522.6h0M1896.5 533.5h0M1912.5 533.3h0M1907.0 532.1h0M1922.9 540.4h0M1906.1 512.5h0M1899.4 513.5h0M1923.5 533.6h0M1930.1 522.9h0M1906.6 517.9h0M1910.9 509.5h0M1918.6 506.8h0M1917.2 518.0h0M1916.3 542.1h0M1896.7 529.7h0M1900.6 521.3h0M1908.1 536.0h0M1926.7 538.8h0M1906.2 515.2h0M1907.8 510.4h0M1922.3 509.2h0M1919.5 539.2h0M1924.4 512.1h0M1903.2 508.7h0M1904.3 531.1h0M1908.7 524.9h0M1903.7 514.0h0M1905.9 506.9h0M1900.4 537.0h0M1900.1 528.0h0M1920.0 519.7h0M1916.2 527.6h0M1927.7 518.8h0M1914.1 538.9h0M1915.2 506.3h0M1924.7 519.8h0M1913.3 524.3h0M1919.0 527.1h0M1924.6 515.5h0M1908.5 521.7h0M1925.5 529.4h0M1914.6 530.3h0M1919.5 522.5h0M1897.2 519.4h0M1916.1 509.1h0M1922.3 522.9h0M1919.3 534.3h0M1901.1 516.2h0M1910.5 513.3h0M1902.8 533.3h0M1930.0 531.7h0M1925.9 534.7h0M1895.5 522.4h0M1904.8 535.3h0M1911.1 525.8h0" stroke="#dcdcdc" stroke-width="3.0" stroke-linecap="round" fill="none"/>
<path d="M1699.9 591.1h0M1721.6 603.6h0M1717.6 593.6h0M1731.4 591.5h0M1707.4 580.1h0M1707.6 598.0h0M1728.1 583.4h0M1698.8 600.1h0M1719.5 573.4h0M1718.3 612.0h0M1708.9 606.5h0M1719.3 581.8h0M1698.7 580.8h0M1711.0 572.1h0M1731.0 602.2h0M1710.5 588.2h0" stroke="#f0f0f0" stroke-width="11.2" stroke-linecap="round" fill="none"/>
<path d="M1795.7 588.1h0M1766.9 590.7h0M1781.6 598.5h0M1774.6 591.3h0M1781.0 579.8h0M1787.8 579.6h0M1771.5 583.7h0M1784.1 592.0h0M1779.5 573.5h0M1775.2 599.4h0M1786.9 602.9h0M1773.9 576.8h0M1795.1 595.1h0M1788.8 596.5h0M1766.3 597.7h0M1778.9 605.4h0M1789.1 586.9h0M1764.2 584.0h0M1767.7 578.5h0M1793.9 581.9h0" stroke="#f0f0f0" stroke-width="6.8" stroke-linecap="round" fill="none"/>
<path d="M1861.2 581.4h0M1842.2 578.8h0M1850.5 581.8h0M1860.6 598.5h0M1850.6 602.4h0M1843.3 589.2h0M1836.3 584.8h0M1850.3 589.7h0M1837.9 600.0h0M1854.5 575.4h0M1861.2 590.2h0M1833.3 590.9h0M1845.4 596.1h0M1854.4 594.7h0M1855.9 586.0h0M1847.8 574.0h0M1839.2 593.8h0M1843.6 602.3h0" stroke="#f0f0f0" stroke-width="6.2" stroke-linecap="round" fill="none"/>
<path d="M1921.6 591.1h0M1900.7 586.9h0M1908.7 596.9h0M1917.1 580.1h0M1909.9 585.6h0M1903.2 579.4h0M1912.2 573.1h0M1915.4 600.2h0M1900.1 595.4h0M1925.5 583.7h0" stroke="#e1e1e1" stroke-width="4.0" stroke-linecap="round" fill="none"/>
<circle cx="1698.60" cy="643.60" r="8.00" fill="#f2f2f2"/>
<circle cx="1714.60" cy="637.00" r="8.00" fill="#f2f2f2"/>
<circle cx="1723.00" cy="645.00" r="6.40" fill="#f2f2f2"/>
<circle cx="1730.40" cy="648.00" r="7.20" fill="#f2f2f2"/>
<circle cx="1722.40" cy="656.00" r="6.00" fill="#f2f2f2"/>
<circle cx="1715.40" cy="660.60" r="7.60" fill="#f2f2f2"/>
<circle cx="1773.60" cy="659.60" r="6.40" fill="#f2f2f2"/>
<circle cx="1791.00" cy="659.60" r="6.00" fill="#f2f2f2"/>
<circle cx="1795.20" cy="666.00" r="6.00" fill="#f2f2f2"/>
<circle cx="1851.40" cy="634.60" r="5.60" fill="#f2f2f2"/>
<circle cx="1855.00" cy="651.00" r="3.40" fill="#f2f2f2"/>
<circle cx="1840.60" cy="657.00" r="5.40" fill="#f2f2f2"/>
<circle cx="1849.00" cy="667.60" r="5.00" fill="#f2f2f2"/>
<circle cx="1866.00" cy="664.60" r="4.80" fill="#f2f2f2"/>
</g></g>
<!-- pc -->
<text font-size="28.6" font-weight="bold" transform="translate(6.40 780.70)" stroke="#000" stroke-width="0.3">c</text>
<rect x="155.20" y="815.03" width="40.60" height="290.67" fill="#d3d3d3"/>
<rect x="215.80" y="867.28" width="40.50" height="238.42" fill="#d3d3d3"/>
<rect x="276.50" y="956.55" width="40.50" height="149.15" fill="#d3d3d3"/>
<rect x="337.20" y="996.83" width="40.50" height="108.87" fill="#a09fa4"/>
<line x1="175.30" y1="801.80" x2="175.30" y2="815.00" stroke="#000" stroke-width="2.2"/>
<line x1="166.30" y1="801.80" x2="184.30" y2="801.80" stroke="#000" stroke-width="2.2"/>
<line x1="236.00" y1="856.30" x2="236.00" y2="867.00" stroke="#000" stroke-width="2.2"/>
<line x1="226.50" y1="856.30" x2="245.50" y2="856.30" stroke="#000" stroke-width="2.2"/>
<line x1="296.60" y1="953.50" x2="296.60" y2="957.00" stroke="#000" stroke-width="2.2"/>
<line x1="287.10" y1="953.50" x2="306.10" y2="953.50" stroke="#000" stroke-width="2.2"/>
<line x1="357.50" y1="994.30" x2="357.50" y2="997.00" stroke="#000" stroke-width="2.2"/>
<line x1="348.00" y1="994.30" x2="367.00" y2="994.30" stroke="#000" stroke-width="2.2"/>
<circle cx="165.40" cy="807.90" r="4.90" fill="none" stroke="#1b9bb4" stroke-width="2.6"/>
<circle cx="185.00" cy="807.90" r="4.90" fill="none" stroke="#1b9bb4" stroke-width="2.6"/>
<circle cx="175.30" cy="829.40" r="4.90" fill="none" stroke="#1b9bb4" stroke-width="2.6"/>
<circle cx="236.00" cy="854.50" r="4.90" fill="none" stroke="#1b9bb4" stroke-width="2.6"/>
<circle cx="226.30" cy="876.00" r="4.90" fill="none" stroke="#1b9bb4" stroke-width="2.6"/>
<circle cx="245.90" cy="871.60" r="4.90" fill="none" stroke="#1b9bb4" stroke-width="2.6"/>
<circle cx="281.30" cy="960.30" r="4.90" fill="none" stroke="#1b9bb4" stroke-width="2.6"/>
<circle cx="296.60" cy="953.80" r="4.90" fill="none" stroke="#1b9bb4" stroke-width="2.6"/>
<circle cx="311.90" cy="957.60" r="4.90" fill="none" stroke="#1b9bb4" stroke-width="2.6"/>
<circle cx="342.20" cy="999.50" r="4.90" fill="none" stroke="#1b9bb4" stroke-width="2.6"/>
<circle cx="357.50" cy="995.50" r="4.90" fill="none" stroke="#1b9bb4" stroke-width="2.6"/>
<circle cx="372.50" cy="996.00" r="4.90" fill="none" stroke="#1b9bb4" stroke-width="2.6"/>
<rect x="135.00" y="779.10" width="263.30" height="326.60" fill="none" stroke="#000" stroke-width="1.5"/>
<line x1="130.00" y1="1105.70" x2="135.00" y2="1105.70" stroke="#000" stroke-width="1.5"/>
<text font-size="20.4" text-anchor="end" transform="translate(126.30 1112.60) scale(1 1.04)" stroke="#000" stroke-width="0.22">0.0</text>
<line x1="130.00" y1="1051.27" x2="135.00" y2="1051.27" stroke="#000" stroke-width="1.5"/>
<text font-size="20.4" text-anchor="end" transform="translate(126.30 1058.17) scale(1 1.04)" stroke="#000" stroke-width="0.22">0.5</text>
<line x1="130.00" y1="996.83" x2="135.00" y2="996.83" stroke="#000" stroke-width="1.5"/>
<text font-size="20.4" text-anchor="end" transform="translate(126.30 1003.73) scale(1 1.04)" stroke="#000" stroke-width="0.22">1.0</text>
<line x1="130.00" y1="942.40" x2="135.00" y2="942.40" stroke="#000" stroke-width="1.5"/>
<text font-size="20.4" text-anchor="end" transform="translate(126.30 949.30) scale(1 1.04)" stroke="#000" stroke-width="0.22">1.5</text>
<line x1="130.00" y1="887.97" x2="135.00" y2="887.97" stroke="#000" stroke-width="1.5"/>
<text font-size="20.4" text-anchor="end" transform="translate(126.30 894.87) scale(1 1.04)" stroke="#000" stroke-width="0.22">2.0</text>
<line x1="130.00" y1="833.53" x2="135.00" y2="833.53" stroke="#000" stroke-width="1.5"/>
<text font-size="20.4" text-anchor="end" transform="translate(126.30 840.43) scale(1 1.04)" stroke="#000" stroke-width="0.22">2.5</text>
<line x1="130.00" y1="779.10" x2="135.00" y2="779.10" stroke="#000" stroke-width="1.5"/>
<text font-size="20.4" text-anchor="end" transform="translate(126.30 786.00) scale(1 1.04)" stroke="#000" stroke-width="0.22">3.0</text>
<line x1="175.30" y1="1105.70" x2="175.30" y2="1110.70" stroke="#000" stroke-width="1.5"/>
<line x1="236.00" y1="1105.70" x2="236.00" y2="1110.70" stroke="#000" stroke-width="1.5"/>
<line x1="296.60" y1="1105.70" x2="296.60" y2="1110.70" stroke="#000" stroke-width="1.5"/>
<line x1="357.50" y1="1105.70" x2="357.50" y2="1110.70" stroke="#000" stroke-width="1.5"/>
<text font-size="28.6" font-weight="bold" text-anchor="end" transform="translate(187.10 1135.60) rotate(-30) scale(1 1.04)" stroke="#000" stroke-width="0.3">yWT12</text>
<text font-size="28.6" font-weight="bold" text-anchor="end" transform="translate(245.80 1135.90) rotate(-30) scale(1 1.04)" stroke="#000" stroke-width="0.3">yWT18</text>
<text font-size="28.6" font-weight="bold" text-anchor="end" transform="translate(307.00 1136.20) rotate(-30) scale(1 1.04)" stroke="#000" stroke-width="0.3">yWT25</text>
<text font-size="28.6" font-weight="bold" text-anchor="end" transform="translate(360.50 1139.30) rotate(-30) scale(1 1.04)" stroke="#000" stroke-width="0.3">WT</text>
<text font-size="26" font-weight="bold" text-anchor="middle" transform="translate(75.00 951.50) rotate(-90)" textLength="325.50" lengthAdjust="spacingAndGlyphs" stroke="#000" stroke-width="0.3">Doubling time(normalized)</text>
<!-- pd -->
<text font-size="28.6" font-weight="bold" transform="translate(444.50 780.70)" stroke="#000" stroke-width="0.3">d</text>
<rect x="663.80" y="920.70" width="50.40" height="127.90" fill="#d8b1b1"/>
<rect x="564.60" y="789.60" width="173.80" height="310.80" fill="none" stroke="#000" stroke-width="1.3"/>
<line x1="564.60" y1="1048.60" x2="738.40" y2="1048.60" stroke="#000" stroke-width="1.3"/>
<line x1="560.10" y1="1100.40" x2="564.60" y2="1100.40" stroke="#000" stroke-width="1.3"/>
<text font-size="20.4" text-anchor="end" transform="translate(555.50 1107.30) scale(1 1.04)" stroke="#000" stroke-width="0.22">-0.05</text>
<line x1="560.10" y1="1048.60" x2="564.60" y2="1048.60" stroke="#000" stroke-width="1.3"/>
<text font-size="20.4" text-anchor="end" transform="translate(555.50 1055.50) scale(1 1.04)" stroke="#000" stroke-width="0.22">0.00</text>
<line x1="560.10" y1="996.80" x2="564.60" y2="996.80" stroke="#000" stroke-width="1.3"/>
<text font-size="20.4" text-anchor="end" transform="translate(555.50 1003.70) scale(1 1.04)" stroke="#000" stroke-width="0.22">0.05</text>
<line x1="560.10" y1="945.00" x2="564.60" y2="945.00" stroke="#000" stroke-width="1.3"/>
<text font-size="20.4" text-anchor="end" transform="translate(555.50 951.90) scale(1 1.04)" stroke="#000" stroke-width="0.22">0.10</text>
<line x1="560.10" y1="893.20" x2="564.60" y2="893.20" stroke="#000" stroke-width="1.3"/>
<text font-size="20.4" text-anchor="end" transform="translate(555.50 900.10) scale(1 1.04)" stroke="#000" stroke-width="0.22">0.15</text>
<line x1="560.10" y1="841.40" x2="564.60" y2="841.40" stroke="#000" stroke-width="1.3"/>
<text font-size="20.4" text-anchor="end" transform="translate(555.50 848.30) scale(1 1.04)" stroke="#000" stroke-width="0.22">0.20</text>
<line x1="560.10" y1="789.60" x2="564.60" y2="789.60" stroke="#000" stroke-width="1.3"/>
<text font-size="20.4" text-anchor="end" transform="translate(555.50 796.50) scale(1 1.04)" stroke="#000" stroke-width="0.22">0.25</text>
<line x1="614.00" y1="1100.40" x2="614.00" y2="1108.90" stroke="#000" stroke-width="1.3"/>
<line x1="688.50" y1="1100.40" x2="688.50" y2="1108.90" stroke="#000" stroke-width="1.3"/>
<line x1="614.00" y1="1009.30" x2="614.00" y2="1086.40" stroke="#000" stroke-width="2.2"/>
<line x1="601.30" y1="1009.30" x2="626.70" y2="1009.30" stroke="#000" stroke-width="2.2"/>
<line x1="601.30" y1="1086.40" x2="626.70" y2="1086.40" stroke="#000" stroke-width="2.2"/>
<line x1="688.50" y1="881.80" x2="688.50" y2="959.40" stroke="#000" stroke-width="2.2"/>
<line x1="675.80" y1="881.80" x2="701.20" y2="881.80" stroke="#000" stroke-width="2.2"/>
<line x1="675.80" y1="959.40" x2="701.20" y2="959.40" stroke="#000" stroke-width="2.2"/>
<path d="M614 994.5V851H689.3V866.5" fill="none" stroke="#000" stroke-width="2.2"/>
<text font-size="28" font-weight="bold" text-anchor="middle" transform="translate(652.00 853.00)" stroke="#000" stroke-width="0.3">*</text>
<circle cx="614.00" cy="1018.20" r="4.00" fill="none" stroke="#1b9bb4" stroke-width="2.0"/>
<circle cx="614.00" cy="1035.50" r="4.00" fill="none" stroke="#1b9bb4" stroke-width="2.0"/>
<circle cx="614.00" cy="1091.50" r="4.00" fill="none" stroke="#1b9bb4" stroke-width="2.0"/>
<circle cx="680.60" cy="895.30" r="4.00" fill="none" stroke="#1b9bb4" stroke-width="2.0"/>
<circle cx="696.70" cy="901.90" r="4.00" fill="none" stroke="#1b9bb4" stroke-width="2.0"/>
<circle cx="688.50" cy="965.50" r="4.00" fill="none" stroke="#1b9bb4" stroke-width="2.0"/>
<text font-size="28.6" font-weight="bold" text-anchor="end" transform="translate(629.00 1133.00) rotate(-30) scale(1 1.04)" stroke="#000" stroke-width="0.3">WT</text>
<text font-size="28.6" font-weight="bold" text-anchor="end" transform="translate(706.00 1135.00) rotate(-30) scale(1 1.04)" stroke="#000" stroke-width="0.3">yWT25</text>
<text transform="translate(495.8 985.6) rotate(-90)" font-size="28.6" font-weight="bold">LPI<tspan font-size="19" font-weight="normal">MMS</tspan></text>
<!-- pe -->
<text font-size="28.6" font-weight="bold" transform="translate(782.70 780.70)" stroke="#000" stroke-width="0.3">e</text>
<g clip-path="url(#clip0)">
<rect x="904.80" y="770.40" width="175.00" height="176.00" fill="url(#bg0)"/>
<g filter="url(#soft2)">
<g transform="translate(995.0 808.8)">
<ellipse rx="36.2" ry="26.6" fill="none" stroke="url(#dicO)" stroke-width="2.4" transform="rotate(20)"/>
<ellipse rx="33.6" ry="24.0" fill="url(#cfill)" transform="rotate(20)"/>
<ellipse rx="31.6" ry="22.0" fill="none" stroke="url(#dic)" stroke-width="4.8" transform="rotate(20)"/>
</g>
<circle cx="986.0" cy="805.8" r="11.0" fill="#8c8c8c" stroke="url(#dicv)" stroke-width="2"/>
<g transform="translate(958.6 861.6)">
<ellipse rx="36.2" ry="34.6" fill="none" stroke="url(#dicO)" stroke-width="2.4"/>
<ellipse rx="33.6" ry="32.0" fill="url(#cfill)"/>
<ellipse rx="31.6" ry="30.0" fill="none" stroke="url(#dic)" stroke-width="4.8"/>
</g>
<circle cx="953.6" cy="855.6" r="15.0" fill="#8c8c8c" stroke="url(#dicv)" stroke-width="2"/>
<g transform="translate(1032.8 850.4)">
<ellipse rx="28.2" ry="29.6" fill="none" stroke="url(#dicO)" stroke-width="2.4"/>
<ellipse rx="25.6" ry="27.0" fill="url(#cfill)"/>
<ellipse rx="23.6" ry="25.0" fill="none" stroke="url(#dic)" stroke-width="4.8"/>
</g>
<circle cx="1032.8" cy="850.4" r="10.0" fill="#8c8c8c" stroke="url(#dicv)" stroke-width="2"/>
<g transform="translate(1005.6 893.6)">
<ellipse rx="28.6" ry="32.6" fill="none" stroke="url(#dicO)" stroke-width="2.4"/>
<ellipse rx="26.0" ry="30.0" fill="url(#cfill)"/>
<ellipse rx="24.0" ry="28.0" fill="none" stroke="url(#dic)" stroke-width="4.8"/>
</g>
<circle cx="1003.6" cy="885.6" r="11.0" fill="#8c8c8c" stroke="url(#dicv)" stroke-width="2"/>
</g>
<rect x="924.60" y="931.00" width="64.40" height="3.40" fill="#fff"/>
</g>
<g clip-path="url(#clip1)">
<rect x="1213.90" y="767.80" width="175.40" height="176.00" fill="url(#bg1)"/>
<g filter="url(#soft2)">
<g transform="translate(1327.8 821.6)">
<ellipse rx="32.6" ry="32.6" fill="none" stroke="url(#dicO)" stroke-width="2.4"/>
<ellipse rx="30.0" ry="30.0" fill="url(#cfill)"/>
<ellipse rx="28.0" ry="28.0" fill="none" stroke="url(#dic)" stroke-width="4.8"/>
</g>
<circle cx="1325.8" cy="826.6" r="13.0" fill="#8c8c8c" stroke="url(#dicv)" stroke-width="2"/>
<g transform="translate(1268.6 872.8)">
<ellipse rx="38.6" ry="38.6" fill="none" stroke="url(#dicO)" stroke-width="2.4"/>
<ellipse rx="36.0" ry="36.0" fill="url(#cfill)"/>
<ellipse rx="34.0" ry="34.0" fill="none" stroke="url(#dic)" stroke-width="4.8"/>
</g>
<g transform="translate(1318.6 894.6)">
<ellipse rx="27.1" ry="27.6" fill="none" stroke="url(#dicO)" stroke-width="2.4"/>
<ellipse rx="24.5" ry="25.0" fill="url(#cfill)"/>
<ellipse rx="22.5" ry="23.0" fill="none" stroke="url(#dic)" stroke-width="4.8"/>
</g>
</g>
<rect x="1232.20" y="929.80" width="64.60" height="3.40" fill="#fff"/>
</g>
<g clip-path="url(#clip2)">
<rect x="906.40" y="976.20" width="175.00" height="176.30" fill="url(#bg2)"/>
<g filter="url(#soft2)">
<g transform="translate(1000.8 1021.6)">
<ellipse rx="36.6" ry="39.6" fill="none" stroke="url(#dicO)" stroke-width="2.4"/>
<ellipse rx="34.0" ry="37.0" fill="url(#cfill)"/>
<ellipse rx="32.0" ry="35.0" fill="none" stroke="url(#dic)" stroke-width="4.8"/>
</g>
<circle cx="1002.8" cy="1011.6" r="16.0" fill="#8c8c8c" stroke="url(#dicv)" stroke-width="2"/>
<g transform="translate(950.2 1076.0)">
<ellipse rx="29.1" ry="29.6" fill="none" stroke="url(#dicO)" stroke-width="2.4"/>
<ellipse rx="26.5" ry="27.0" fill="url(#cfill)"/>
<ellipse rx="24.5" ry="25.0" fill="none" stroke="url(#dic)" stroke-width="4.8"/>
</g>
<g transform="translate(1031.8 1068.0)">
<ellipse rx="28.2" ry="28.2" fill="none" stroke="url(#dicO)" stroke-width="2.4"/>
<ellipse rx="25.6" ry="25.6" fill="url(#cfill)"/>
<ellipse rx="23.6" ry="23.6" fill="none" stroke="url(#dic)" stroke-width="4.8"/>
</g>
</g>
<rect x="924.00" y="1137.80" width="64.60" height="3.40" fill="#fff"/>
</g>
<g clip-path="url(#clip3)">
<rect x="1213.90" y="976.20" width="175.40" height="175.30" fill="url(#bg3)"/>
<g filter="url(#soft2)">
<g transform="translate(1259.0 1019.0)">
<ellipse rx="31.4" ry="31.4" fill="none" stroke="url(#dicO)" stroke-width="2.4"/>
<ellipse rx="28.8" ry="28.8" fill="url(#cfill)"/>
<ellipse rx="26.8" ry="26.8" fill="none" stroke="url(#dic)" stroke-width="4.8"/>
</g>
<g transform="translate(1343.2 1045.6)">
<ellipse rx="32.6" ry="35.6" fill="none" stroke="url(#dicO)" stroke-width="2.4"/>
<ellipse rx="30.0" ry="33.0" fill="url(#cfill)"/>
<ellipse rx="28.0" ry="31.0" fill="none" stroke="url(#dic)" stroke-width="4.8"/>
</g>
<circle cx="1343.2" cy="1045.6" r="12.0" fill="#8c8c8c" stroke="url(#dicv)" stroke-width="2"/>
<g transform="translate(1262.6 1068.0)">
<ellipse rx="24.1" ry="22.6" fill="none" stroke="url(#dicO)" stroke-width="2.4"/>
<ellipse rx="21.5" ry="20.0" fill="url(#cfill)"/>
<ellipse rx="19.5" ry="18.0" fill="none" stroke="url(#dic)" stroke-width="4.8"/>
</g>
<g transform="translate(1308.6 1073.4)">
<ellipse rx="18.1" ry="18.1" fill="none" stroke="url(#dicO)" stroke-width="2.4"/>
<ellipse rx="15.5" ry="15.5" fill="url(#cfill)"/>
<ellipse rx="13.5" ry="13.5" fill="none" stroke="url(#dic)" stroke-width="4.8"/>
</g>
<g transform="translate(1343.2 1117.6)">
<ellipse rx="28.2" ry="28.6" fill="none" stroke="url(#dicO)" stroke-width="2.4"/>
<ellipse rx="25.6" ry="26.0" fill="url(#cfill)"/>
<ellipse rx="23.6" ry="24.0" fill="none" stroke="url(#dic)" stroke-width="4.8"/>
</g>
</g>
<rect x="1228.60" y="1138.70" width="64.70" height="3.40" fill="#fff"/>
</g>
<text font-size="28.6" font-weight="bold" transform="translate(850.40 888.80) scale(1 1.04)" stroke="#000" stroke-width="0.3">WT</text>
<text font-size="28.6" font-weight="bold" transform="translate(1112.80 884.00) scale(1 1.04)" stroke="#000" stroke-width="0.3">yWT12</text>
<text font-size="28.6" font-weight="bold" transform="translate(811.00 1092.00) scale(1 1.04)" stroke="#000" stroke-width="0.3">yWT18</text>
<text font-size="28.6" font-weight="bold" transform="translate(1112.80 1087.20) scale(1 1.04)" stroke="#000" stroke-width="0.3">yWT25</text>
<!-- pf -->
<text font-size="28.6" font-weight="bold" transform="translate(1422.50 782.00)" stroke="#000" stroke-width="0.3">f</text>
<rect x="1544.30" y="902.90" width="200.10" height="233.10" fill="url(#fbg1)"/>
<rect x="1751.60" y="902.90" width="197.70" height="233.10" fill="url(#fbg2)"/>
<g clip-path="url(#clipf)"><g filter="url(#soft)">
<circle cx="1560.00" cy="1118.00" r="14.00" fill="#2e2e2e" opacity="0.8"/>
<circle cx="1610.00" cy="905.00" r="10.00" fill="#2e2e2e" opacity="0.8"/>
<circle cx="1650.00" cy="906.00" r="12.00" fill="#2e2e2e" opacity="0.8"/>
<circle cx="1766.00" cy="1118.00" r="12.00" fill="#2e2e2e" opacity="0.8"/>
<circle cx="1790.00" cy="930.00" r="12.00" fill="#2e2e2e" opacity="0.8"/>
<circle cx="1830.00" cy="925.00" r="12.00" fill="#2e2e2e" opacity="0.8"/>
<circle cx="1870.00" cy="928.00" r="12.00" fill="#2e2e2e" opacity="0.8"/>
<circle cx="1596.50" cy="936.50" r="20.40" fill="url(#lg32)"/>
<path d="M1593.3 942.9h0M1593.6 932.5h0M1585.7 934.0h0M1608.7 941.2h0M1608.3 939.3h0M1601.5 938.8h0M1581.6 944.1h0M1602.7 942.6h0M1584.1 923.7h0M1586.3 931.1h0M1600.4 935.9h0M1602.7 928.8h0M1600.4 941.5h0M1590.5 952.0h0M1602.4 949.2h0M1589.3 927.9h0M1592.1 935.1h0M1604.3 939.5h0M1591.4 925.6h0M1591.0 949.4h0M1586.9 939.4h0M1600.7 921.7h0M1597.0 950.4h0M1579.5 933.8h0M1595.2 926.7h0M1602.8 935.7h0M1603.9 947.0h0M1611.1 940.2h0M1597.8 922.7h0M1591.7 923.2h0M1606.1 921.4h0M1581.7 938.9h0M1610.8 942.2h0M1585.5 921.9h0M1600.8 927.7h0M1585.2 946.4h0M1583.2 947.3h0M1607.3 942.5h0M1580.1 931.2h0M1603.7 921.0h0" stroke="#f5f5f5" stroke-width="2.4" stroke-linecap="round" fill="none"/>
<circle cx="1705.40" cy="948.50" r="20.40" fill="url(#lg33)"/>
<path d="M1703.3 960.1h0M1694.5 961.9h0M1712.3 946.6h0M1709.4 956.4h0M1706.7 961.2h0M1697.4 943.5h0M1717.3 948.8h0M1696.0 958.6h0M1720.0 944.1h0M1691.0 947.1h0M1703.5 944.7h0M1718.5 938.9h0M1717.0 936.9h0M1696.4 955.8h0M1717.0 957.4h0M1709.8 950.3h0M1707.3 955.6h0M1703.1 952.1h0M1712.5 948.5h0M1714.3 955.1h0M1722.3 951.2h0M1700.1 943.9h0M1705.2 959.3h0M1701.2 953.3h0M1716.1 933.6h0M1692.9 951.2h0M1700.2 956.4h0M1708.9 942.0h0M1698.5 947.3h0M1702.5 947.7h0M1687.5 945.3h0M1715.4 936.9h0M1713.4 962.5h0M1689.5 945.2h0M1712.3 931.6h0M1715.3 935.3h0M1712.0 934.1h0M1715.0 950.2h0M1704.5 963.8h0M1717.2 945.2h0" stroke="#f5f5f5" stroke-width="2.4" stroke-linecap="round" fill="none"/>
<circle cx="1594.00" cy="1012.00" r="21.60" fill="url(#lg34)"/>
<circle cx="1707.50" cy="1020.50" r="21.60" fill="url(#lg4)"/>
<circle cx="1596.50" cy="1088.00" r="21.60" fill="url(#lg35)"/>
<circle cx="1711.00" cy="1094.00" r="22.50" fill="url(#lg36)"/>
<circle cx="1808.00" cy="950.00" r="18.00" fill="url(#lg33)"/>
<path d="M1822.9 943.8h0M1817.4 947.3h0M1809.4 957.6h0M1797.1 939.2h0M1814.0 940.5h0M1799.7 938.1h0M1819.3 956.7h0M1820.1 942.3h0M1808.0 938.8h0M1814.2 963.0h0M1800.8 962.6h0M1795.2 959.2h0M1806.9 943.4h0M1812.4 954.5h0M1816.9 961.7h0M1821.0 948.4h0M1800.9 959.7h0M1809.3 951.4h0M1792.6 947.4h0M1794.2 956.1h0M1811.4 943.4h0M1807.9 958.8h0M1808.7 962.4h0M1807.4 960.5h0M1818.5 961.3h0M1794.7 942.3h0M1796.2 949.9h0M1805.8 949.7h0M1801.6 952.5h0M1822.5 950.4h0" stroke="#f5f5f5" stroke-width="2.4" stroke-linecap="round" fill="none"/>
<circle cx="1906.40" cy="947.00" r="17.00" fill="url(#lg27)"/>
<path d="M1911.3 956.3h0M1904.6 935.7h0M1901.3 956.8h0M1893.7 942.4h0M1915.4 954.1h0M1906.5 955.1h0M1907.9 936.2h0M1915.1 941.7h0M1898.1 939.9h0M1893.7 946.0h0M1895.7 950.3h0M1891.7 949.0h0M1901.9 933.4h0M1913.7 944.2h0M1909.4 942.2h0M1913.7 954.0h0M1913.1 950.3h0M1917.6 952.6h0M1909.5 932.8h0M1913.7 957.7h0M1903.3 942.1h0M1917.6 936.9h0M1909.2 961.7h0M1897.8 953.4h0M1920.3 946.1h0M1897.5 946.1h0M1909.3 955.1h0M1906.0 944.9h0M1896.8 943.6h0M1915.2 948.0h0M1920.4 953.0h0M1912.6 951.8h0M1919.5 950.3h0M1905.7 952.5h0M1893.5 953.9h0M1909.7 939.9h0M1915.1 958.8h0M1909.5 949.0h0M1902.6 937.8h0M1897.3 936.8h0M1918.6 954.1h0M1897.9 949.6h0M1899.0 945.7h0M1911.2 950.9h0M1903.2 954.8h0M1906.9 938.8h0M1899.9 947.0h0M1905.2 948.7h0M1911.0 945.0h0M1910.6 937.9h0" stroke="#a2a2a2" stroke-width="1.4" stroke-linecap="round" fill="none"/>
<circle cx="1807.00" cy="1024.40" r="21.00" fill="url(#lg37)"/>
<circle cx="1905.50" cy="1020.50" r="17.00" fill="url(#lg38)"/>
<circle cx="1807.00" cy="1098.50" r="20.40" fill="url(#lg39)"/>
<circle cx="1907.00" cy="1093.40" r="21.60" fill="url(#lg40)"/>
</g></g>
<rect x="1744.40" y="901.90" width="7.20" height="235.10" fill="#fff"/>
<text font-size="28.6" font-weight="bold" transform="translate(1442.00 947.00) scale(1 1.04)" stroke="#000" stroke-width="0.3">yWT12</text>
<text font-size="28.6" font-weight="bold" transform="translate(1445.00 1027.00) scale(1 1.04)" stroke="#000" stroke-width="0.3">yWT18</text>
<text font-size="28.6" font-weight="bold" transform="translate(1441.00 1101.50) scale(1 1.04)" stroke="#000" stroke-width="0.3">yWT25</text>
<text font-size="25" font-weight="bold" transform="translate(1590.00 898.00) rotate(-42) scale(1 1.04)" stroke="#000" stroke-width="0.3">YLL027W</text>
<text font-size="25" font-weight="bold" transform="translate(1701.00 900.00) rotate(-42) scale(1 1.04)" stroke="#000" stroke-width="0.3">vector</text>
<text font-size="25" font-weight="bold" transform="translate(1794.00 898.00) rotate(-42) scale(1 1.04)" stroke="#000" stroke-width="0.3">YLL027W</text>
<text font-size="25" font-weight="bold" transform="translate(1897.00 900.00) rotate(-42) scale(1 1.04)" stroke="#000" stroke-width="0.3">vector</text>
<text font-size="28.3" transform="translate(1598.00 1162.40) scale(1 1.04)" stroke="#000" stroke-width="0.22">SC-Ura</text>
<text font-size="28.3" transform="translate(1798.00 1162.40) scale(1 1.04)" stroke="#000" stroke-width="0.22">SC-Lys</text>
<!-- pg -->
<text font-size="28.6" font-weight="bold" transform="translate(6.50 1257.40)" stroke="#000" stroke-width="0.3">g</text>
<path d="M96.5 1253.5 L98.4 1300.6 L101.8 1347.6 L104.0 1394.7 L106.7 1441.8 L110.1 1484.1 L113.5 1529.8 L116.1 1559.5 L118.4 1583.0 L120.3 1599.9 L123.8 1623.9 L128.0 1647.0 L133.5 1668.7 L139.9 1688.0 L147.1 1700.7 L156.9 1709.1 L166.3 1713.4 L180.6 1717.0 L195.3 1719.4 L211.9 1720.6 L236.1 1721.6 L271.9 1722.1 L322.9 1722.6 L398.3 1723.3 L398.3 1724.2 L96.5 1724.2Z" fill="#c5d4ea"/>
<path d="M96.5 1253.5 L98.4 1300.6 L101.8 1347.6 L104.0 1394.7 L106.7 1441.8 L110.1 1484.1 L113.5 1529.8 L116.1 1559.5 L118.4 1583.0 L120.3 1599.9 L123.8 1623.9 L128.0 1647.0 L133.5 1668.7 L139.9 1688.0 L147.1 1700.7 L156.9 1709.1 L166.3 1713.4 L180.6 1717.0 L195.3 1719.4 L211.9 1720.6 L236.1 1721.6 L271.9 1722.1 L322.9 1722.6 L398.3 1723.3" fill="none" stroke="#2fa6bf" stroke-width="1.3" stroke-linejoin="round"/>
<path d="M96.5 1253.5 L100.3 1300.6 L105.6 1347.6 L108.9 1394.7 L112.3 1441.8 L117.2 1488.8 L123.7 1535.9 L130.5 1579.2 L133.5 1597.6 L136.9 1615.5 L141.2 1636.2 L145.9 1654.1 L150.8 1670.1 L156.9 1684.2 L165.2 1696.0 L175.7 1703.0 L184.4 1709.1 L192.7 1712.9 L203.6 1715.7 L215.7 1717.6 L230.0 1719.6 L247.4 1720.6 L285.1 1721.2 L322.9 1721.8 L398.3 1722.8" fill="none" stroke="#b0121c" stroke-width="1.3" stroke-linejoin="round"/>
<line x1="96.50" y1="1253.50" x2="96.50" y2="1724.90" stroke="#000" stroke-width="1.5"/>
<line x1="95.80" y1="1724.20" x2="399.00" y2="1724.20" stroke="#000" stroke-width="1.5"/>
<line x1="90.50" y1="1724.20" x2="96.50" y2="1724.20" stroke="#000" stroke-width="1.2"/>
<text font-size="20.4" text-anchor="end" transform="translate(85.00 1731.10) scale(1 1.04)" stroke="#000" stroke-width="0.22">0.0</text>
<line x1="93.10" y1="1677.13" x2="96.50" y2="1677.13" stroke="#000" stroke-width="1.2"/>
<line x1="90.50" y1="1630.06" x2="96.50" y2="1630.06" stroke="#000" stroke-width="1.2"/>
<text font-size="20.4" text-anchor="end" transform="translate(85.00 1636.96) scale(1 1.04)" stroke="#000" stroke-width="0.22">0.2</text>
<line x1="93.10" y1="1582.99" x2="96.50" y2="1582.99" stroke="#000" stroke-width="1.2"/>
<line x1="90.50" y1="1535.92" x2="96.50" y2="1535.92" stroke="#000" stroke-width="1.2"/>
<text font-size="20.4" text-anchor="end" transform="translate(85.00 1542.82) scale(1 1.04)" stroke="#000" stroke-width="0.22">0.4</text>
<line x1="93.10" y1="1488.85" x2="96.50" y2="1488.85" stroke="#000" stroke-width="1.2"/>
<line x1="90.50" y1="1441.78" x2="96.50" y2="1441.78" stroke="#000" stroke-width="1.2"/>
<text font-size="20.4" text-anchor="end" transform="translate(85.00 1448.68) scale(1 1.04)" stroke="#000" stroke-width="0.22">0.6</text>
<line x1="93.10" y1="1394.71" x2="96.50" y2="1394.71" stroke="#000" stroke-width="1.2"/>
<line x1="90.50" y1="1347.64" x2="96.50" y2="1347.64" stroke="#000" stroke-width="1.2"/>
<text font-size="20.4" text-anchor="end" transform="translate(85.00 1354.54) scale(1 1.04)" stroke="#000" stroke-width="0.22">0.8</text>
<line x1="93.10" y1="1300.57" x2="96.50" y2="1300.57" stroke="#000" stroke-width="1.2"/>
<line x1="90.50" y1="1253.50" x2="96.50" y2="1253.50" stroke="#000" stroke-width="1.2"/>
<text font-size="20.4" text-anchor="end" transform="translate(85.00 1260.40) scale(1 1.04)" stroke="#000" stroke-width="0.22">1.0</text>
<line x1="96.50" y1="1724.20" x2="96.50" y2="1730.20" stroke="#000" stroke-width="1.2"/>
<text font-size="20.4" text-anchor="middle" transform="translate(93.10 1754.20) scale(1 1.04)" stroke="#000" stroke-width="0.22">0</text>
<line x1="134.22" y1="1724.20" x2="134.22" y2="1727.60" stroke="#000" stroke-width="1.2"/>
<line x1="171.95" y1="1724.20" x2="171.95" y2="1730.20" stroke="#000" stroke-width="1.2"/>
<text font-size="20.4" text-anchor="middle" transform="translate(169.43 1754.20) scale(1 1.04)" stroke="#000" stroke-width="0.22">2</text>
<line x1="209.68" y1="1724.20" x2="209.68" y2="1727.60" stroke="#000" stroke-width="1.2"/>
<line x1="247.40" y1="1724.20" x2="247.40" y2="1730.20" stroke="#000" stroke-width="1.2"/>
<text font-size="20.4" text-anchor="middle" transform="translate(245.76 1754.20) scale(1 1.04)" stroke="#000" stroke-width="0.22">4</text>
<line x1="285.12" y1="1724.20" x2="285.12" y2="1727.60" stroke="#000" stroke-width="1.2"/>
<line x1="322.85" y1="1724.20" x2="322.85" y2="1730.20" stroke="#000" stroke-width="1.2"/>
<text font-size="20.4" text-anchor="middle" transform="translate(322.09 1754.20) scale(1 1.04)" stroke="#000" stroke-width="0.22">6</text>
<line x1="360.57" y1="1724.20" x2="360.57" y2="1727.60" stroke="#000" stroke-width="1.2"/>
<line x1="398.30" y1="1724.20" x2="398.30" y2="1730.20" stroke="#000" stroke-width="1.2"/>
<text font-size="20.4" text-anchor="middle" transform="translate(398.42 1754.20) scale(1 1.04)" stroke="#000" stroke-width="0.22">8</text>
<text font-size="24" font-weight="bold" text-anchor="middle" transform="translate(36.50 1506.50) rotate(-90)" stroke="#000" stroke-width="0.3">Proportion</text>
<text transform="translate(197.6 1793) scale(1 1.03)" font-size="31.4" font-weight="bold" stroke="#000" stroke-width="0.3">|log<tspan font-size="21" dy="6.5">2</tspan><tspan dy="-6.5">FC|</tspan></text>
<line x1="229.20" y1="1312.20" x2="269.00" y2="1312.20" stroke="#b0121c" stroke-width="1.3"/>
<line x1="229.20" y1="1362.20" x2="269.00" y2="1362.20" stroke="#2fa6bf" stroke-width="1.3"/>
<text font-size="29.5" font-weight="bold" transform="translate(290.70 1322.30) scale(1 1.04)" stroke="#000" stroke-width="0.3">yWT12</text>
<text font-size="29.5" font-weight="bold" transform="translate(290.70 1372.00) scale(1 1.04)" stroke="#000" stroke-width="0.3">yWT25</text>
<!-- ph -->
<text font-size="28.6" font-weight="bold" transform="translate(421.30 1256.40)" stroke="#000" stroke-width="0.3">h</text>
<rect x="972.00" y="1246.50" width="164.60" height="493.50" fill="none" stroke="#111" stroke-width="1.4"/>
<line x1="966.50" y1="1269.10" x2="972.00" y2="1269.10" stroke="#111" stroke-width="1.8"/>
<text font-size="25.25" transform="translate(678.10 1275.10) scale(1 0.96)" textLength="283.30" lengthAdjust="spacingAndGlyphs" stroke="#000" stroke-width="0.22">Oxidative phosphorylation</text>
<circle cx="1012.70" cy="1269.10" r="16.80" fill="#f98786"/>
<circle cx="1095.00" cy="1269.10" r="9.30" fill="#f98a89"/>
<line x1="966.50" y1="1313.92" x2="972.00" y2="1313.92" stroke="#111" stroke-width="1.8"/>
<text font-size="25.25" transform="translate(511.20 1320.12) scale(1 0.96)" textLength="450.20" lengthAdjust="spacingAndGlyphs" stroke="#000" stroke-width="0.22">Glyoxylate and dicarboxylate metabolism</text>
<circle cx="1012.70" cy="1313.92" r="6.70" fill="#f98d8c"/>
<circle cx="1095.00" cy="1313.92" r="2.30" fill="#2f93ad"/>
<line x1="966.50" y1="1358.74" x2="972.00" y2="1358.74" stroke="#111" stroke-width="1.8"/>
<text font-size="25.25" transform="translate(529.70 1361.94) scale(1 0.96)" textLength="431.70" lengthAdjust="spacingAndGlyphs" stroke="#000" stroke-width="0.22">Biosynthesis of secondary metabolites</text>
<circle cx="1012.70" cy="1358.74" r="24.80" fill="#f98786"/>
<circle cx="1095.00" cy="1358.74" r="9.30" fill="#fdeeed"/>
<line x1="966.50" y1="1403.56" x2="972.00" y2="1403.56" stroke="#111" stroke-width="1.8"/>
<text font-size="25.25" transform="translate(741.60 1410.46) scale(1 0.96)" textLength="219.80" lengthAdjust="spacingAndGlyphs" stroke="#000" stroke-width="0.22">Carbon metabolism</text>
<circle cx="1012.70" cy="1403.56" r="11.30" fill="#f98988"/>
<circle cx="1095.00" cy="1403.56" r="5.00" fill="#2396b2"/>
<line x1="966.50" y1="1448.38" x2="972.00" y2="1448.38" stroke="#111" stroke-width="1.8"/>
<text font-size="25.25" transform="translate(637.50 1454.38) scale(1 0.96)" textLength="323.90" lengthAdjust="spacingAndGlyphs" stroke="#000" stroke-width="0.22">Longevity regulating pathway</text>
<circle cx="1012.70" cy="1448.38" r="6.70" fill="#f98d8c"/>
<circle cx="1095.00" cy="1448.38" r="2.80" fill="#2f8fa9"/>
<line x1="966.50" y1="1493.20" x2="972.00" y2="1493.20" stroke="#111" stroke-width="1.8"/>
<text font-size="25.25" transform="translate(585.80 1500.40) scale(1 0.96)" textLength="375.60" lengthAdjust="spacingAndGlyphs" stroke="#000" stroke-width="0.22">Biosynthesis of nucleotide sugars</text>
<circle cx="1012.70" cy="1493.20" r="5.50" fill="#f99291"/>
<line x1="966.50" y1="1538.02" x2="972.00" y2="1538.02" stroke="#111" stroke-width="1.8"/>
<text font-size="25.25" transform="translate(848.20 1545.02) scale(1 0.96)" textLength="113.20" lengthAdjust="spacingAndGlyphs" stroke="#000" stroke-width="0.22">Ribosome</text>
<circle cx="1012.70" cy="1538.02" r="14.70" fill="#f98b8a"/>
<circle cx="1095.00" cy="1538.02" r="2.40" fill="#2f93ad"/>
<line x1="966.50" y1="1582.84" x2="972.00" y2="1582.84" stroke="#111" stroke-width="1.8"/>
<text font-size="25.25" transform="translate(440.20 1588.24) scale(1 0.96)" textLength="521.20" lengthAdjust="spacingAndGlyphs" stroke="#000" stroke-width="0.22">Amino sugar and nucleotide sugar metabolism</text>
<circle cx="1012.70" cy="1582.84" r="5.90" fill="#f9a5a4"/>
<circle cx="1095.00" cy="1582.84" r="1.90" fill="#2f93ad"/>
<line x1="966.50" y1="1627.66" x2="972.00" y2="1627.66" stroke="#111" stroke-width="1.8"/>
<text font-size="25.25" transform="translate(485.80 1632.26) scale(1 0.96)" textLength="475.60" lengthAdjust="spacingAndGlyphs" stroke="#000" stroke-width="0.22">Valine, leucine and isoleucine biosynthesis</text>
<circle cx="1012.70" cy="1627.66" r="4.20" fill="#f9adac"/>
<circle cx="1095.00" cy="1627.66" r="2.40" fill="#fbc6c5"/>
<line x1="966.50" y1="1672.48" x2="972.00" y2="1672.48" stroke="#111" stroke-width="1.8"/>
<text font-size="25.25" transform="translate(494.80 1677.28) scale(1 0.96)" textLength="466.60" lengthAdjust="spacingAndGlyphs" stroke="#000" stroke-width="0.22">Glycine, serine and threonine metabolism</text>
<circle cx="1012.70" cy="1672.48" r="5.50" fill="#f9adac"/>
<circle cx="1095.00" cy="1672.48" r="2.30" fill="#2f93ad"/>
<line x1="966.50" y1="1717.30" x2="972.00" y2="1717.30" stroke="#111" stroke-width="1.8"/>
<text font-size="25.25" transform="translate(690.40 1724.10) scale(1 0.96)" textLength="271.00" lengthAdjust="spacingAndGlyphs" stroke="#000" stroke-width="0.22">Citrate cycle (TCA cycle)</text>
<circle cx="1012.70" cy="1717.30" r="5.50" fill="#f9b5b4"/>
<circle cx="1095.00" cy="1717.30" r="3.00" fill="#2390ab"/>
<line x1="1012.70" y1="1740.00" x2="1012.70" y2="1745.50" stroke="#111" stroke-width="1.8"/>
<line x1="1095.00" y1="1740.00" x2="1095.00" y2="1745.50" stroke="#111" stroke-width="1.8"/>
<text font-size="28.6" font-weight="bold" transform="translate(951.00 1792.00) rotate(-17) scale(1 1.04)" stroke="#000" stroke-width="0.3">yWT12</text>
<text font-size="28.6" font-weight="bold" transform="translate(1031.00 1792.00) rotate(-17) scale(1 1.04)" stroke="#000" stroke-width="0.3">yWT25</text>
<rect x="1161.00" y="1376.70" width="24.00" height="90.50" fill="url(#cb1161)" stroke="#999" stroke-width="0.8"/>
<text transform="translate(1153 1343)" font-size="27" font-weight="bold">p<tspan font-size="19.5" dy="5.5">adj</tspan></text>
<text font-size="20.4" transform="translate(1191.50 1381.70) scale(1 1.04)" stroke="#000" stroke-width="0.22">0.10</text>
<text font-size="20.4" transform="translate(1191.50 1431.45) scale(1 1.04)" stroke="#000" stroke-width="0.22">0.05</text>
<text font-size="20.4" transform="translate(1191.50 1473.20) scale(1 1.04)" stroke="#000" stroke-width="0.22">0</text>
<text font-size="24.4" font-weight="bold" transform="translate(1151.00 1535.80) scale(1 1.04)" stroke="#000" stroke-width="0.3" letter-spacing="0.4">Count</text>
<circle cx="1176.50" cy="1565.70" r="5.90" fill="#d0d0d0"/>
<text font-size="20.4" transform="translate(1202.50 1571.20) scale(1 1.04)" stroke="#000" stroke-width="0.22">10</text>
<circle cx="1176.50" cy="1589.60" r="10.50" fill="#d0d0d0"/>
<text font-size="20.4" transform="translate(1202.50 1595.10) scale(1 1.04)" stroke="#000" stroke-width="0.22">20</text>
<circle cx="1176.50" cy="1621.00" r="14.70" fill="#d0d0d0"/>
<text font-size="20.4" transform="translate(1202.50 1626.50) scale(1 1.04)" stroke="#000" stroke-width="0.22">30</text>
<circle cx="1176.50" cy="1663.00" r="18.90" fill="#d0d0d0"/>
<text font-size="20.4" transform="translate(1202.50 1668.50) scale(1 1.04)" stroke="#000" stroke-width="0.22">40</text>
<circle cx="1176.50" cy="1713.50" r="24.00" fill="#d0d0d0"/>
<text font-size="20.4" transform="translate(1202.50 1719.00) scale(1 1.04)" stroke="#000" stroke-width="0.22">50</text>
<!-- pi -->
<text font-size="28.6" font-weight="bold" transform="translate(1262.60 1257.20)" stroke="#000" stroke-width="0.3">i</text>
<rect x="1732.50" y="1253.00" width="159.50" height="466.30" fill="none" stroke="#222" stroke-width="1.2"/>
<line x1="1726.50" y1="1288.40" x2="1732.50" y2="1288.40" stroke="#222" stroke-width="1.2"/>
<text font-size="24.34" transform="translate(1305.40 1294.20) scale(1 0.93)" textLength="414.00" lengthAdjust="spacingAndGlyphs" stroke="#000" stroke-width="0.22">Biosynthesis of secondary metabolites</text>
<circle cx="1755.76" cy="1288.40" r="10.30" fill="#fdecec"/>
<line x1="1726.50" y1="1324.33" x2="1732.50" y2="1324.33" stroke="#222" stroke-width="1.2"/>
<text font-size="24.34" transform="translate(1516.10 1330.13) scale(1 0.93)" textLength="203.30" lengthAdjust="spacingAndGlyphs" stroke="#000" stroke-width="0.22">Lysine degradation</text>
<circle cx="1824.21" cy="1324.33" r="4.60" fill="#fcdada"/>
<line x1="1726.50" y1="1360.26" x2="1732.50" y2="1360.26" stroke="#222" stroke-width="1.2"/>
<text font-size="24.34" transform="translate(1318.50 1366.06) scale(1 0.93)" textLength="400.90" lengthAdjust="spacingAndGlyphs" stroke="#000" stroke-width="0.22">Cysteine and methionine metabolism</text>
<circle cx="1788.99" cy="1360.26" r="5.70" fill="#fbc4c4"/>
<line x1="1726.50" y1="1396.19" x2="1732.50" y2="1396.19" stroke="#222" stroke-width="1.2"/>
<text font-size="24.34" transform="translate(1495.20 1401.99) scale(1 0.93)" textLength="224.20" lengthAdjust="spacingAndGlyphs" stroke="#000" stroke-width="0.22">Histidine metabolism</text>
<circle cx="1837.50" cy="1396.19" r="4.60" fill="#fbcaca"/>
<line x1="1726.50" y1="1432.12" x2="1732.50" y2="1432.12" stroke="#222" stroke-width="1.2"/>
<text font-size="24.34" transform="translate(1271.80 1437.92) scale(1 0.93)" textLength="447.60" lengthAdjust="spacingAndGlyphs" stroke="#000" stroke-width="0.22">Valine, leucine and isoleucine degradation</text>
<circle cx="1837.50" cy="1432.12" r="4.60" fill="#fbc8c8"/>
<line x1="1726.50" y1="1468.05" x2="1732.50" y2="1468.05" stroke="#222" stroke-width="1.2"/>
<text font-size="24.34" transform="translate(1451.50 1473.85) scale(1 0.93)" textLength="267.90" lengthAdjust="spacingAndGlyphs" stroke="#000" stroke-width="0.22">beta-Alanine metabolism</text>
<circle cx="1845.48" cy="1468.05" r="4.60" fill="#fbc4c4"/>
<line x1="1726.50" y1="1503.98" x2="1732.50" y2="1503.98" stroke="#222" stroke-width="1.2"/>
<text font-size="24.34" transform="translate(1262.60 1509.78) scale(1 0.93)" textLength="456.80" lengthAdjust="spacingAndGlyphs" stroke="#000" stroke-width="0.22">Valine, leucine and isoleucine biosynthesis</text>
<circle cx="1854.78" cy="1503.98" r="4.60" fill="#fbc6c6"/>
<line x1="1726.50" y1="1539.91" x2="1732.50" y2="1539.91" stroke="#222" stroke-width="1.2"/>
<text font-size="24.34" transform="translate(1493.30 1545.71) scale(1 0.93)" textLength="226.10" lengthAdjust="spacingAndGlyphs" stroke="#000" stroke-width="0.22">Pyruvate metabolism</text>
<circle cx="1788.33" cy="1539.91" r="6.50" fill="#fbc6c6"/>
<line x1="1726.50" y1="1575.84" x2="1732.50" y2="1575.84" stroke="#222" stroke-width="1.2"/>
<text font-size="24.34" transform="translate(1488.40 1581.64) scale(1 0.93)" textLength="231.00" lengthAdjust="spacingAndGlyphs" stroke="#000" stroke-width="0.22">Fatty acid degradation</text>
<circle cx="1830.19" cy="1575.84" r="5.30" fill="#fbc0c0"/>
<line x1="1726.50" y1="1611.77" x2="1732.50" y2="1611.77" stroke="#222" stroke-width="1.2"/>
<text font-size="24.34" transform="translate(1533.20 1617.57) scale(1 0.93)" textLength="186.20" lengthAdjust="spacingAndGlyphs" stroke="#000" stroke-width="0.22">ABC transporters</text>
<circle cx="1840.83" cy="1611.77" r="5.30" fill="#fbc4c4"/>
<line x1="1726.50" y1="1647.70" x2="1732.50" y2="1647.70" stroke="#222" stroke-width="1.2"/>
<text font-size="24.34" transform="translate(1338.60 1653.50) scale(1 0.93)" textLength="380.80" lengthAdjust="spacingAndGlyphs" stroke="#000" stroke-width="0.22">Ascorbate and aldarate metabolism</text>
<circle cx="1866.08" cy="1647.70" r="4.60" fill="#fbc0c0"/>
<line x1="1726.50" y1="1683.63" x2="1732.50" y2="1683.63" stroke="#222" stroke-width="1.2"/>
<text font-size="24.34" transform="translate(1447.70 1689.43) scale(1 0.93)" textLength="271.70" lengthAdjust="spacingAndGlyphs" stroke="#000" stroke-width="0.22">Oxidative phosphorylation</text>
<circle cx="1838.17" cy="1683.63" r="10.30" fill="#f98786"/>
<line x1="1726.50" y1="1253.00" x2="1732.50" y2="1253.00" stroke="#222" stroke-width="1.2"/>
<line x1="1726.50" y1="1719.30" x2="1732.50" y2="1719.30" stroke="#222" stroke-width="1.2"/>
<line x1="1732.50" y1="1250.00" x2="1732.50" y2="1253.00" stroke="#222" stroke-width="1.2"/>
<line x1="1892.00" y1="1250.00" x2="1892.00" y2="1253.00" stroke="#222" stroke-width="1.2"/>
<line x1="1732.50" y1="1719.30" x2="1732.50" y2="1725.30" stroke="#222" stroke-width="1.2"/>
<text font-size="20.4" text-anchor="middle" transform="translate(1732.50 1752.00) scale(1 1.04)" stroke="#000" stroke-width="0.22">0</text>
<line x1="1759.08" y1="1719.30" x2="1759.08" y2="1722.80" stroke="#222" stroke-width="1.2"/>
<line x1="1785.67" y1="1719.30" x2="1785.67" y2="1725.30" stroke="#222" stroke-width="1.2"/>
<text font-size="20.4" text-anchor="middle" transform="translate(1785.67 1752.00) scale(1 1.04)" stroke="#000" stroke-width="0.22">4</text>
<line x1="1812.25" y1="1719.30" x2="1812.25" y2="1722.80" stroke="#222" stroke-width="1.2"/>
<line x1="1838.83" y1="1719.30" x2="1838.83" y2="1725.30" stroke="#222" stroke-width="1.2"/>
<text font-size="20.4" text-anchor="middle" transform="translate(1838.83 1752.00) scale(1 1.04)" stroke="#000" stroke-width="0.22">8</text>
<line x1="1865.42" y1="1719.30" x2="1865.42" y2="1722.80" stroke="#222" stroke-width="1.2"/>
<line x1="1892.00" y1="1719.30" x2="1892.00" y2="1725.30" stroke="#222" stroke-width="1.2"/>
<text font-size="20.4" text-anchor="middle" transform="translate(1892.00 1752.00) scale(1 1.04)" stroke="#000" stroke-width="0.22">12</text>
<text font-size="25" font-weight="bold" transform="translate(1710.40 1781.60)" textLength="219.60" lengthAdjust="spacingAndGlyphs" stroke="#000" stroke-width="0.3">Enrichment score</text>
<rect x="1919.40" y="1358.70" width="24.40" height="92.30" fill="url(#cb1919)" stroke="#999" stroke-width="0.8"/>
<text transform="translate(1908 1320)" font-size="27" font-weight="bold">p<tspan font-size="19.5" dy="5.5">adj</tspan></text>
<text font-size="20.4" transform="translate(1950.00 1363.70) scale(1 1.04)" stroke="#000" stroke-width="0.22">0.10</text>
<text font-size="20.4" transform="translate(1950.00 1414.35) scale(1 1.04)" stroke="#000" stroke-width="0.22">0.05</text>
<text font-size="20.4" transform="translate(1950.00 1457.00) scale(1 1.04)" stroke="#000" stroke-width="0.22">0</text>
<text font-size="25" font-weight="bold" transform="translate(1912.60 1532.40) scale(1 1.04)" stroke="#000" stroke-width="0.3" letter-spacing="0.5">Count</text>
<circle cx="1929.00" cy="1565.00" r="4.60" fill="#d0d0d0"/>
<text font-size="20.4" transform="translate(1949.80 1572.00) scale(1 1.04)" stroke="#000" stroke-width="0.22">3.00</text>
<circle cx="1929.00" cy="1601.50" r="6.80" fill="#d0d0d0"/>
<text font-size="20.4" transform="translate(1949.80 1608.50) scale(1 1.04)" stroke="#000" stroke-width="0.22">7.14</text>
<circle cx="1929.00" cy="1639.10" r="10.30" fill="#d0d0d0"/>
<text font-size="20.4" transform="translate(1949.80 1646.10) scale(1 1.04)" stroke="#000" stroke-width="0.22">17.00</text>
</svg>
</body></html>
